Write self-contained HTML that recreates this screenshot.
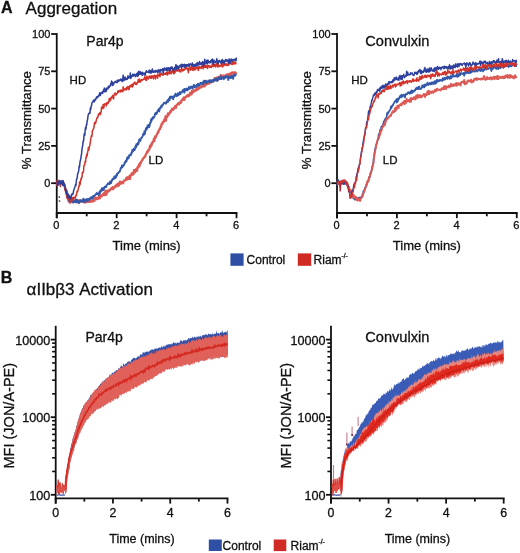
<!DOCTYPE html>
<html><head><meta charset="utf-8"><style>
html,body{margin:0;padding:0;background:#fff;}
svg{display:block;will-change:transform;}
text{font-family:"Liberation Sans", sans-serif;fill:#111;stroke:#111;stroke-width:0.3px;}
</style></head><body>
<svg width="520" height="553" viewBox="0 0 520 553">
<rect width="520" height="553" fill="#fff"/>
<text x="1.0" y="13.4" font-size="16" font-weight="bold">A</text>
<text x="25.6" y="13.5" font-size="17">Aggregation</text>
<text x="0.8" y="283.3" font-size="16" font-weight="bold">B</text>
<text x="26.6" y="294.8" font-size="17">&#945;IIb&#946;3 Activation</text>
<line x1="56.75" y1="33.1" x2="56.75" y2="218.2" stroke="#111" stroke-width="1.8"/>
<line x1="55.85" y1="213.0" x2="237.41" y2="213.0" stroke="#111" stroke-width="1.8"/>
<line x1="51.15" y1="34.0" x2="56.75" y2="34.0" stroke="#111" stroke-width="1.8"/>
<text x="50.45" y="37.9" font-size="11" text-anchor="end" font-weight="normal" >100</text>
<line x1="51.15" y1="71.29999999999998" x2="56.75" y2="71.29999999999998" stroke="#111" stroke-width="1.8"/>
<text x="50.45" y="75.19999999999999" font-size="11" text-anchor="end" font-weight="normal" >75</text>
<line x1="51.15" y1="108.6" x2="56.75" y2="108.6" stroke="#111" stroke-width="1.8"/>
<text x="50.45" y="112.5" font-size="11" text-anchor="end" font-weight="normal" >50</text>
<line x1="51.15" y1="145.89999999999998" x2="56.75" y2="145.89999999999998" stroke="#111" stroke-width="1.8"/>
<text x="50.45" y="149.79999999999998" font-size="11" text-anchor="end" font-weight="normal" >25</text>
<line x1="51.15" y1="183.2" x2="56.75" y2="183.2" stroke="#111" stroke-width="1.8"/>
<text x="50.45" y="187.1" font-size="11" text-anchor="end" font-weight="normal" >0</text>
<line x1="56.75" y1="213" x2="56.75" y2="218.2" stroke="#111" stroke-width="1.8"/>
<text x="56.35" y="229.1" font-size="11" text-anchor="middle" font-weight="normal" >0</text>
<line x1="86.71000000000001" y1="213" x2="86.71000000000001" y2="216.3" stroke="#111" stroke-width="1.8"/>
<line x1="116.67" y1="213" x2="116.67" y2="218.2" stroke="#111" stroke-width="1.8"/>
<text x="116.27" y="229.1" font-size="11" text-anchor="middle" font-weight="normal" >2</text>
<line x1="146.63" y1="213" x2="146.63" y2="216.3" stroke="#111" stroke-width="1.8"/>
<line x1="176.59" y1="213" x2="176.59" y2="218.2" stroke="#111" stroke-width="1.8"/>
<text x="176.19" y="229.1" font-size="11" text-anchor="middle" font-weight="normal" >4</text>
<line x1="206.55" y1="213" x2="206.55" y2="216.3" stroke="#111" stroke-width="1.8"/>
<line x1="236.51" y1="213" x2="236.51" y2="218.2" stroke="#111" stroke-width="1.8"/>
<text x="236.10999999999999" y="229.1" font-size="11" text-anchor="middle" font-weight="normal" >6</text>
<text transform="translate(31.2,120.2) rotate(-90)" font-size="13.2" text-anchor="middle">% Transmittance</text>
<text x="146.63" y="249.8" font-size="13" text-anchor="middle" font-weight="normal" >Time (mins)</text>
<text x="86.3" y="45.7" font-size="14" text-anchor="start" font-weight="normal" >Par4p</text>
<line x1="337.0" y1="33.1" x2="337.0" y2="218.2" stroke="#111" stroke-width="1.8"/>
<line x1="336.1" y1="213.0" x2="517.66" y2="213.0" stroke="#111" stroke-width="1.8"/>
<line x1="331.4" y1="34.0" x2="337.0" y2="34.0" stroke="#111" stroke-width="1.8"/>
<text x="330.7" y="37.9" font-size="11" text-anchor="end" font-weight="normal" >100</text>
<line x1="331.4" y1="71.29999999999998" x2="337.0" y2="71.29999999999998" stroke="#111" stroke-width="1.8"/>
<text x="330.7" y="75.19999999999999" font-size="11" text-anchor="end" font-weight="normal" >75</text>
<line x1="331.4" y1="108.6" x2="337.0" y2="108.6" stroke="#111" stroke-width="1.8"/>
<text x="330.7" y="112.5" font-size="11" text-anchor="end" font-weight="normal" >50</text>
<line x1="331.4" y1="145.89999999999998" x2="337.0" y2="145.89999999999998" stroke="#111" stroke-width="1.8"/>
<text x="330.7" y="149.79999999999998" font-size="11" text-anchor="end" font-weight="normal" >25</text>
<line x1="331.4" y1="183.2" x2="337.0" y2="183.2" stroke="#111" stroke-width="1.8"/>
<text x="330.7" y="187.1" font-size="11" text-anchor="end" font-weight="normal" >0</text>
<line x1="337.0" y1="213" x2="337.0" y2="218.2" stroke="#111" stroke-width="1.8"/>
<text x="336.6" y="229.1" font-size="11" text-anchor="middle" font-weight="normal" >0</text>
<line x1="366.96" y1="213" x2="366.96" y2="216.3" stroke="#111" stroke-width="1.8"/>
<line x1="396.92" y1="213" x2="396.92" y2="218.2" stroke="#111" stroke-width="1.8"/>
<text x="396.52000000000004" y="229.1" font-size="11" text-anchor="middle" font-weight="normal" >2</text>
<line x1="426.88" y1="213" x2="426.88" y2="216.3" stroke="#111" stroke-width="1.8"/>
<line x1="456.84000000000003" y1="213" x2="456.84000000000003" y2="218.2" stroke="#111" stroke-width="1.8"/>
<text x="456.44000000000005" y="229.1" font-size="11" text-anchor="middle" font-weight="normal" >4</text>
<line x1="486.8" y1="213" x2="486.8" y2="216.3" stroke="#111" stroke-width="1.8"/>
<line x1="516.76" y1="213" x2="516.76" y2="218.2" stroke="#111" stroke-width="1.8"/>
<text x="516.36" y="229.1" font-size="11" text-anchor="middle" font-weight="normal" >6</text>
<text transform="translate(310.8,120.2) rotate(-90)" font-size="13.2" text-anchor="middle">% Transmittance</text>
<text x="426.88" y="249.8" font-size="13" text-anchor="middle" font-weight="normal" >Time (mins)</text>
<text x="365.3" y="45.7" font-size="14.6" text-anchor="start" font-weight="normal" >Convulxin</text>
<polyline fill="none" stroke="#dc5a55" stroke-width="2.3" stroke-linejoin="round" opacity="1.0" points="56.75,183.96 57.15,184.27 57.55,183.71 57.95,182.11 58.35,183.98 58.75,183.43 59.15,182.42 59.55,183.27 59.95,182.88 60.35,182.64 60.75,182.26 61.15,182.65 61.55,181.52 61.95,182.15 62.35,182.06 62.75,183.28 63.15,183.08 63.55,183.17 63.95,183.48 64.35,185.01 64.75,186.52 65.15,187.65 65.55,190.45 65.95,191.58 66.35,189.93 66.75,192.51 67.15,195.81 67.55,197.03 67.95,198.53 68.35,199.27 68.75,201.65 69.15,199.32 69.55,200.42 69.95,202.87 70.35,201.69 70.75,201.74 71.15,200.70 71.55,199.70 71.95,201.36 72.35,201.33 72.75,200.14 73.15,200.65 73.55,201.22 73.95,200.45 74.35,201.22 74.75,201.41 75.15,201.37 75.55,200.89 75.95,201.89 76.35,202.17 76.75,201.66 77.15,200.64 77.55,202.04 77.95,200.94 78.35,202.18 78.75,200.43 79.15,202.22 79.55,201.38 79.95,200.28 80.35,201.12 80.75,201.45 81.15,201.65 81.55,200.52 81.95,200.40 82.35,201.57 82.75,200.97 83.15,201.60 83.55,202.06 83.95,199.89 84.35,201.59 84.75,202.46 85.15,201.08 85.55,200.60 85.95,202.00 86.35,201.54 86.75,202.10 87.15,200.97 87.55,199.93 87.95,201.15 88.35,200.83 88.75,201.91 89.15,201.37 89.55,199.71 89.95,200.08 90.35,201.93 90.75,201.72 91.15,200.51 91.55,201.03 91.95,201.34 92.35,201.25 92.75,201.48 93.15,200.77 93.55,200.28 93.95,199.94 94.35,200.91 94.75,197.72 95.15,199.39 95.55,199.30 95.95,197.75 96.35,199.08 96.75,197.95 97.15,199.06 97.55,197.93 97.95,198.40 98.35,198.66 98.75,197.69 99.15,196.33 99.55,195.53 99.95,198.24 100.35,196.32 100.75,195.56 101.15,196.06 101.55,195.51 101.95,196.19 102.35,195.20 102.75,194.92 103.15,194.00 103.55,194.80 103.95,193.18 104.35,194.44 104.75,194.94 105.15,191.92 105.55,190.80 105.95,193.30 106.35,194.76 106.75,191.29 107.15,190.79 107.55,192.17 107.95,190.61 108.35,190.64 108.75,190.52 109.15,191.04 109.55,189.93 109.95,190.28 110.35,189.61 110.75,188.74 111.15,188.95 111.55,188.12 111.95,188.72 112.35,187.43 112.75,187.20 113.15,189.23 113.55,187.60 113.95,187.34 114.35,187.58 114.75,186.48 115.15,186.39 115.55,186.71 115.95,186.32 116.35,184.76 116.75,186.29 117.15,184.75 117.55,184.08 117.95,183.96 118.35,184.17 118.75,185.74 119.15,182.97 119.55,183.93 119.95,181.61 120.35,183.29 120.75,183.86 121.15,182.59 121.55,181.99 121.95,182.51 122.35,182.68 122.75,182.39 123.15,183.31 123.55,181.46 123.95,180.48 124.35,180.62 124.75,180.40 125.15,180.28 125.55,179.86 125.95,179.75 126.35,177.79 126.75,179.74 127.15,178.17 127.55,177.32 127.95,178.63 128.35,178.92 128.75,177.85 129.15,177.22 129.55,175.90 129.95,178.97 130.35,176.83 130.75,174.66 131.15,174.62 131.55,175.03 131.95,173.17 132.35,174.34 132.75,173.39 133.15,174.52 133.55,173.88 133.95,170.16 134.35,172.21 134.75,170.28 135.15,172.28 135.55,170.96 135.95,170.81 136.35,168.85 136.75,170.90 137.15,170.48 137.55,167.09 137.95,167.74 138.35,166.13 138.75,166.05 139.15,164.26 139.55,166.42 139.95,163.22 140.35,163.19 140.75,163.28 141.15,161.62 141.55,161.37 141.95,160.45 142.35,160.22 142.75,158.67 143.15,158.71 143.55,158.29 143.95,157.56 144.35,157.28 144.75,156.34 145.15,156.65 145.55,155.05 145.95,154.58 146.35,153.46 146.75,152.93 147.15,151.60 147.55,152.54 147.95,150.37 148.35,150.04 148.75,150.34 149.15,149.67 149.55,148.22 149.95,146.02 150.35,147.46 150.75,146.55 151.15,144.27 151.55,145.46 151.95,143.35 152.35,142.19 152.75,142.50 153.15,141.48 153.55,141.05 153.95,138.66 154.35,140.97 154.75,138.04 155.15,136.44 155.55,137.63 155.95,136.00 156.35,135.86 156.75,134.51 157.15,134.00 157.55,133.53 157.95,131.88 158.35,132.41 158.75,130.62 159.15,129.50 159.55,129.59 159.95,129.15 160.35,127.75 160.75,126.38 161.15,126.92 161.55,123.97 161.95,123.83 162.35,124.01 162.75,121.98 163.15,122.47 163.55,121.67 163.95,121.83 164.35,119.52 164.75,119.15 165.15,119.40 165.55,116.28 165.95,120.69 166.35,116.69 166.75,116.10 167.15,116.97 167.55,115.61 167.95,113.51 168.35,115.15 168.75,114.83 169.15,113.15 169.55,112.80 169.95,113.00 170.35,111.27 170.75,112.00 171.15,111.32 171.55,110.08 171.95,108.98 172.35,109.59 172.75,108.57 173.15,109.83 173.55,108.63 173.95,108.79 174.35,107.79 174.75,107.50 175.15,106.16 175.55,107.07 175.95,107.68 176.35,105.41 176.75,104.78 177.15,104.79 177.55,104.13 177.95,103.56 178.35,103.95 178.75,103.20 179.15,104.40 179.55,102.75 179.95,102.69 180.35,102.91 180.75,101.43 181.15,102.65 181.55,100.45 181.95,99.95 182.35,100.01 182.75,99.90 183.15,98.41 183.55,99.31 183.95,97.51 184.35,99.93 184.75,98.27 185.15,97.44 185.55,96.87 185.95,97.01 186.35,96.83 186.75,95.77 187.15,95.56 187.55,95.90 187.95,95.28 188.35,96.27 188.75,96.13 189.15,94.81 189.55,94.91 189.95,92.97 190.35,94.44 190.75,93.53 191.15,93.69 191.55,94.39 191.95,90.60 192.35,92.59 192.75,91.07 193.15,92.31 193.55,90.30 193.95,90.75 194.35,91.10 194.75,91.19 195.15,90.43 195.55,89.37 195.95,89.32 196.35,90.34 196.75,89.28 197.15,87.51 197.55,89.52 197.95,88.88 198.35,89.04 198.75,87.70 199.15,88.50 199.55,86.55 199.95,87.77 200.35,86.57 200.75,87.38 201.15,87.43 201.55,85.63 201.95,86.00 202.35,85.85 202.75,86.65 203.15,85.99 203.55,84.02 203.95,85.31 204.35,85.34 204.75,86.36 205.15,82.72 205.55,83.53 205.95,85.00 206.35,82.37 206.75,82.30 207.15,83.64 207.55,83.89 207.95,82.17 208.35,83.07 208.75,82.49 209.15,83.57 209.55,82.01 209.95,82.72 210.35,80.84 210.75,81.31 211.15,81.21 211.55,82.15 211.95,81.47 212.35,80.09 212.75,81.21 213.15,81.11 213.55,80.15 213.95,79.84 214.35,79.73 214.75,78.20 215.15,79.73 215.55,79.60 215.95,78.44 216.35,79.72 216.75,77.65 217.15,78.22 217.55,78.13 217.95,80.18 218.35,76.79 218.75,78.57 219.15,78.76 219.55,78.09 219.95,78.65 220.35,76.53 220.75,75.22 221.15,77.81 221.55,75.89 221.95,76.52 222.35,75.60 222.75,77.46 223.15,77.14 223.55,75.57 223.95,76.89 224.35,76.04 224.75,75.66 225.15,75.70 225.55,75.32 225.95,75.92 226.35,75.51 226.75,74.78 227.15,75.87 227.55,74.28 227.95,74.96 228.35,74.95 228.75,75.77 229.15,73.86 229.55,75.76 229.95,74.23 230.35,73.78 230.75,73.23 231.15,74.24 231.55,73.64 231.95,72.49 232.35,72.36 232.75,72.77 233.15,72.55 233.55,74.04 233.95,74.19 234.35,73.63 234.75,73.08 235.15,72.27 235.55,72.61 235.95,73.27 236.35,74.30"/>
<polyline fill="none" stroke="#3358aa" stroke-width="1.9" stroke-linejoin="round" opacity="1.0" points="56.75,183.82 57.15,183.06 57.55,183.04 57.95,181.09 58.35,184.78 58.75,184.06 59.15,182.61 59.55,183.44 59.95,182.81 60.35,181.88 60.75,183.11 61.15,181.88 61.55,181.89 61.95,181.59 62.35,182.90 62.75,182.65 63.15,183.53 63.55,182.89 63.95,184.30 64.35,184.44 64.75,187.27 65.15,188.06 65.55,189.58 65.95,191.05 66.35,191.49 66.75,194.97 67.15,197.89 67.55,195.98 67.95,196.75 68.35,197.58 68.75,200.25 69.15,200.08 69.55,201.29 69.95,201.22 70.35,200.87 70.75,201.01 71.15,200.67 71.55,201.66 71.95,199.92 72.35,200.60 72.75,201.24 73.15,202.67 73.55,200.39 73.95,200.12 74.35,200.59 74.75,201.98 75.15,200.89 75.55,202.29 75.95,199.41 76.35,202.11 76.75,202.02 77.15,199.80 77.55,201.21 77.95,202.16 78.35,201.13 78.75,201.94 79.15,203.17 79.55,201.26 79.95,200.75 80.35,200.29 80.75,201.55 81.15,200.77 81.55,200.77 81.95,200.81 82.35,201.47 82.75,199.90 83.15,199.46 83.55,198.63 83.95,201.87 84.35,200.80 84.75,202.03 85.15,200.58 85.55,199.81 85.95,200.79 86.35,200.16 86.75,198.96 87.15,199.15 87.55,201.37 87.95,199.94 88.35,199.82 88.75,199.03 89.15,198.48 89.55,199.74 89.95,198.66 90.35,197.89 90.75,198.25 91.15,197.34 91.55,198.10 91.95,198.70 92.35,196.69 92.75,198.47 93.15,196.32 93.55,196.79 93.95,195.62 94.35,195.89 94.75,195.85 95.15,195.13 95.55,194.61 95.95,194.35 96.35,193.92 96.75,192.95 97.15,193.82 97.55,194.10 97.95,194.24 98.35,193.67 98.75,194.97 99.15,192.71 99.55,191.67 99.95,193.42 100.35,190.45 100.75,191.91 101.15,189.82 101.55,190.64 101.95,188.20 102.35,190.42 102.75,189.11 103.15,188.02 103.55,190.04 103.95,188.85 104.35,187.85 104.75,186.77 105.15,187.04 105.55,186.56 105.95,187.00 106.35,186.69 106.75,185.00 107.15,184.73 107.55,184.36 107.95,183.24 108.35,183.54 108.75,183.60 109.15,183.91 109.55,184.08 109.95,181.76 110.35,182.58 110.75,181.28 111.15,183.13 111.55,180.81 111.95,180.89 112.35,179.18 112.75,178.88 113.15,179.38 113.55,178.43 113.95,178.67 114.35,176.52 114.75,178.09 115.15,176.24 115.55,178.14 115.95,175.87 116.35,176.64 116.75,173.90 117.15,175.04 117.55,173.33 117.95,173.16 118.35,173.04 118.75,172.10 119.15,171.96 119.55,171.72 119.95,170.98 120.35,169.69 120.75,167.91 121.15,167.79 121.55,167.72 121.95,165.37 122.35,167.34 122.75,165.83 123.15,165.21 123.55,165.68 123.95,164.82 124.35,163.81 124.75,162.10 125.15,162.68 125.55,162.11 125.95,160.40 126.35,161.53 126.75,160.45 127.15,157.62 127.55,158.90 127.95,157.05 128.35,158.61 128.75,157.71 129.15,155.39 129.55,154.99 129.95,155.28 130.35,154.37 130.75,155.36 131.15,154.06 131.55,152.55 131.95,152.74 132.35,149.80 132.75,151.33 133.15,151.25 133.55,149.72 133.95,148.66 134.35,149.23 134.75,149.90 135.15,147.74 135.55,145.96 135.95,147.68 136.35,144.10 136.75,145.65 137.15,144.07 137.55,144.83 137.95,142.63 138.35,143.97 138.75,142.43 139.15,139.99 139.55,139.14 139.95,139.99 140.35,140.80 140.75,139.09 141.15,138.37 141.55,137.42 141.95,137.61 142.35,136.59 142.75,135.81 143.15,133.97 143.55,135.22 143.95,134.67 144.35,131.56 144.75,134.10 145.15,131.97 145.55,130.18 145.95,128.21 146.35,129.82 146.75,129.05 147.15,127.34 147.55,125.59 147.95,127.56 148.35,125.37 148.75,124.82 149.15,127.16 149.55,125.86 149.95,124.15 150.35,122.23 150.75,122.57 151.15,119.29 151.55,120.79 151.95,119.37 152.35,118.25 152.75,117.35 153.15,118.62 153.55,117.60 153.95,117.05 154.35,117.05 154.75,114.93 155.15,113.99 155.55,112.91 155.95,113.64 156.35,114.05 156.75,112.68 157.15,112.85 157.55,110.68 157.95,110.80 158.35,110.02 158.75,109.08 159.15,111.38 159.55,109.98 159.95,108.04 160.35,107.56 160.75,107.72 161.15,106.01 161.55,107.24 161.95,105.23 162.35,105.62 162.75,104.59 163.15,104.65 163.55,103.46 163.95,102.83 164.35,102.98 164.75,102.84 165.15,102.80 165.55,102.75 165.95,103.70 166.35,102.70 166.75,101.39 167.15,101.93 167.55,100.32 167.95,101.92 168.35,100.80 168.75,98.77 169.15,100.36 169.55,100.12 169.95,96.67 170.35,98.13 170.75,98.10 171.15,96.51 171.55,97.01 171.95,96.85 172.35,97.90 172.75,97.45 173.15,99.29 173.55,96.31 173.95,97.46 174.35,96.24 174.75,96.17 175.15,94.64 175.55,93.72 175.95,94.51 176.35,95.66 176.75,96.16 177.15,95.05 177.55,94.73 177.95,93.30 178.35,95.21 178.75,94.82 179.15,92.92 179.55,93.14 179.95,92.07 180.35,94.07 180.75,92.91 181.15,92.24 181.55,92.49 181.95,92.31 182.35,91.34 182.75,90.39 183.15,90.15 183.55,89.54 183.95,91.32 184.35,92.70 184.75,88.98 185.15,90.44 185.55,90.49 185.95,89.04 186.35,89.91 186.75,88.55 187.15,90.42 187.55,88.62 187.95,89.05 188.35,89.39 188.75,88.20 189.15,86.79 189.55,87.74 189.95,88.72 190.35,87.77 190.75,87.87 191.15,86.52 191.55,87.44 191.95,87.79 192.35,86.99 192.75,88.51 193.15,86.43 193.55,85.51 193.95,84.83 194.35,87.15 194.75,85.90 195.15,86.71 195.55,86.05 195.95,86.94 196.35,86.47 196.75,84.84 197.15,85.27 197.55,85.86 197.95,83.62 198.35,85.90 198.75,85.54 199.15,85.19 199.55,83.99 199.95,84.30 200.35,82.89 200.75,83.81 201.15,83.09 201.55,83.57 201.95,82.91 202.35,83.48 202.75,84.16 203.15,81.79 203.55,83.67 203.95,80.92 204.35,80.65 204.75,82.36 205.15,82.35 205.55,82.63 205.95,80.63 206.35,81.94 206.75,82.00 207.15,82.90 207.55,81.57 207.95,82.03 208.35,80.57 208.75,81.18 209.15,80.84 209.55,81.78 209.95,80.16 210.35,80.20 210.75,81.37 211.15,82.37 211.55,81.01 211.95,80.84 212.35,80.16 212.75,81.36 213.15,80.77 213.55,81.75 213.95,80.40 214.35,79.16 214.75,79.40 215.15,78.94 215.55,78.61 215.95,80.78 216.35,80.28 216.75,78.35 217.15,80.98 217.55,79.51 217.95,78.34 218.35,79.46 218.75,78.97 219.15,78.25 219.55,77.11 219.95,78.81 220.35,78.95 220.75,76.29 221.15,79.02 221.55,79.00 221.95,77.94 222.35,78.38 222.75,77.95 223.15,77.37 223.55,77.72 223.95,79.19 224.35,76.59 224.75,78.03 225.15,77.91 225.55,77.04 225.95,77.20 226.35,76.27 226.75,76.69 227.15,77.40 227.55,77.61 227.95,76.44 228.35,79.94 228.75,76.61 229.15,77.17 229.55,76.79 229.95,76.57 230.35,78.04 230.75,76.38 231.15,77.95 231.55,77.72 231.95,75.69 232.35,77.51 232.75,75.94 233.15,78.93 233.55,76.07 233.95,75.52 234.35,74.60 234.75,75.11 235.15,75.70 235.55,75.28 235.95,75.03 236.35,75.47"/>
<polyline fill="none" stroke="#d2332b" stroke-width="1.5" stroke-linejoin="round" opacity="1.0" points="56.75,186.20 57.15,180.34 57.55,183.93 57.95,182.58 58.35,182.60 58.75,182.76 59.15,180.38 59.55,182.45 59.95,181.47 60.35,186.53 60.75,182.51 61.15,181.72 61.55,181.83 61.95,181.46 62.35,181.17 62.75,182.26 63.15,183.65 63.55,183.14 63.95,185.40 64.35,185.03 64.75,186.59 65.15,189.87 65.55,189.99 65.95,190.00 66.35,191.99 66.75,194.59 67.15,197.92 67.55,196.44 67.95,197.24 68.35,199.38 68.75,197.56 69.15,198.78 69.55,200.66 69.95,200.60 70.35,200.21 70.75,201.04 71.15,196.66 71.55,201.37 71.95,198.73 72.35,197.62 72.75,199.79 73.15,200.03 73.55,198.29 73.95,197.11 74.35,197.97 74.75,197.25 75.15,198.37 75.55,196.80 75.95,195.33 76.35,195.60 76.75,192.96 77.15,190.97 77.55,191.73 77.95,190.60 78.35,188.46 78.75,186.60 79.15,186.68 79.55,182.06 79.95,184.79 80.35,183.24 80.75,179.22 81.15,179.93 81.55,177.14 81.95,177.69 82.35,172.52 82.75,172.19 83.15,172.46 83.55,171.24 83.95,165.23 84.35,165.36 84.75,164.43 85.15,161.34 85.55,162.28 85.95,157.14 86.35,157.48 86.75,154.20 87.15,155.79 87.55,152.56 87.95,150.68 88.35,147.55 88.75,150.33 89.15,147.66 89.55,146.09 89.95,144.92 90.35,142.19 90.75,139.16 91.15,137.14 91.55,135.33 91.95,136.26 92.35,131.01 92.75,130.47 93.15,129.32 93.55,128.59 93.95,127.64 94.35,124.03 94.75,122.15 95.15,123.08 95.55,123.44 95.95,121.77 96.35,120.08 96.75,118.44 97.15,118.27 97.55,116.70 97.95,117.15 98.35,114.29 98.75,114.64 99.15,113.55 99.55,113.61 99.95,112.49 100.35,114.69 100.75,112.70 101.15,112.05 101.55,107.01 101.95,108.53 102.35,107.61 102.75,108.47 103.15,104.41 103.55,108.20 103.95,107.55 104.35,104.09 104.75,104.00 105.15,103.74 105.55,104.32 105.95,104.60 106.35,105.90 106.75,102.64 107.15,103.39 107.55,102.18 107.95,103.73 108.35,102.01 108.75,102.35 109.15,98.85 109.55,99.52 109.95,98.32 110.35,100.79 110.75,99.32 111.15,97.71 111.55,97.13 111.95,97.91 112.35,96.05 112.75,95.40 113.15,96.81 113.55,98.95 113.95,95.24 114.35,94.53 114.75,93.44 115.15,92.93 115.55,94.95 115.95,95.07 116.35,93.72 116.75,93.84 117.15,93.29 117.55,93.05 117.95,90.70 118.35,91.77 118.75,92.22 119.15,90.85 119.55,90.98 119.95,90.31 120.35,90.67 120.75,91.91 121.15,90.10 121.55,90.18 121.95,91.16 122.35,90.72 122.75,91.81 123.15,86.86 123.55,90.33 123.95,88.45 124.35,89.02 124.75,89.70 125.15,89.80 125.55,89.55 125.95,88.25 126.35,89.88 126.75,87.32 127.15,87.31 127.55,88.30 127.95,86.42 128.35,89.63 128.75,88.01 129.15,89.27 129.55,86.33 129.95,85.69 130.35,86.18 130.75,86.70 131.15,84.85 131.55,85.86 131.95,85.16 132.35,86.99 132.75,83.93 133.15,85.85 133.55,83.51 133.95,82.89 134.35,82.97 134.75,82.13 135.15,83.57 135.55,84.44 135.95,83.12 136.35,83.47 136.75,84.50 137.15,82.57 137.55,82.26 137.95,81.46 138.35,79.59 138.75,82.35 139.15,79.02 139.55,81.85 139.95,80.85 140.35,82.13 140.75,80.48 141.15,79.40 141.55,80.73 141.95,79.45 142.35,79.80 142.75,79.95 143.15,79.61 143.55,79.42 143.95,78.50 144.35,79.19 144.75,76.64 145.15,79.01 145.55,77.59 145.95,80.38 146.35,80.46 146.75,76.33 147.15,78.84 147.55,78.39 147.95,77.13 148.35,78.99 148.75,77.64 149.15,75.89 149.55,77.65 149.95,77.67 150.35,77.87 150.75,76.07 151.15,78.25 151.55,78.27 151.95,75.79 152.35,76.27 152.75,76.86 153.15,76.12 153.55,78.87 153.95,76.82 154.35,75.16 154.75,75.30 155.15,76.08 155.55,78.88 155.95,75.65 156.35,75.90 156.75,76.25 157.15,75.42 157.55,78.19 157.95,74.54 158.35,76.00 158.75,75.14 159.15,75.58 159.55,73.21 159.95,76.76 160.35,74.27 160.75,74.34 161.15,73.01 161.55,73.15 161.95,74.65 162.35,75.06 162.75,74.66 163.15,75.12 163.55,74.39 163.95,73.43 164.35,74.34 164.75,73.94 165.15,72.98 165.55,73.92 165.95,74.53 166.35,73.13 166.75,72.30 167.15,73.56 167.55,74.95 167.95,72.22 168.35,72.29 168.75,72.15 169.15,73.76 169.55,69.86 169.95,72.53 170.35,73.48 170.75,70.90 171.15,73.70 171.55,72.43 171.95,70.99 172.35,71.86 172.75,69.61 173.15,70.75 173.55,73.67 173.95,70.19 174.35,73.54 174.75,71.06 175.15,72.34 175.55,71.08 175.95,68.15 176.35,70.17 176.75,71.05 177.15,69.31 177.55,69.00 177.95,71.07 178.35,69.73 178.75,68.36 179.15,69.56 179.55,71.43 179.95,69.69 180.35,71.39 180.75,72.07 181.15,70.14 181.55,68.62 181.95,68.34 182.35,69.87 182.75,70.95 183.15,70.12 183.55,70.41 183.95,69.11 184.35,69.98 184.75,68.95 185.15,69.07 185.55,67.81 185.95,67.40 186.35,68.70 186.75,67.86 187.15,67.99 187.55,69.96 187.95,68.93 188.35,72.65 188.75,70.11 189.15,68.10 189.55,69.80 189.95,69.22 190.35,67.86 190.75,70.03 191.15,67.63 191.55,64.72 191.95,69.47 192.35,67.65 192.75,70.22 193.15,67.50 193.55,66.77 193.95,70.13 194.35,66.79 194.75,68.33 195.15,69.83 195.55,68.11 195.95,67.81 196.35,67.98 196.75,68.84 197.15,66.73 197.55,68.44 197.95,68.35 198.35,70.48 198.75,67.09 199.15,66.31 199.55,68.32 199.95,66.85 200.35,67.65 200.75,67.40 201.15,68.64 201.55,66.30 201.95,66.95 202.35,63.83 202.75,65.85 203.15,68.83 203.55,66.00 203.95,65.92 204.35,65.22 204.75,67.42 205.15,66.86 205.55,65.10 205.95,67.36 206.35,66.80 206.75,67.37 207.15,65.57 207.55,68.49 207.95,66.78 208.35,66.07 208.75,65.51 209.15,65.80 209.55,67.13 209.95,65.67 210.35,67.30 210.75,66.63 211.15,67.54 211.55,66.82 211.95,65.67 212.35,63.32 212.75,66.03 213.15,66.59 213.55,65.76 213.95,66.20 214.35,64.86 214.75,64.93 215.15,64.18 215.55,67.01 215.95,65.46 216.35,64.60 216.75,63.50 217.15,64.92 217.55,66.87 217.95,65.60 218.35,64.07 218.75,66.71 219.15,66.66 219.55,66.06 219.95,65.77 220.35,66.18 220.75,65.37 221.15,65.62 221.55,63.63 221.95,66.43 222.35,64.80 222.75,67.00 223.15,61.87 223.55,65.26 223.95,65.56 224.35,63.86 224.75,64.82 225.15,65.14 225.55,64.89 225.95,63.45 226.35,63.90 226.75,65.31 227.15,65.59 227.55,64.08 227.95,64.01 228.35,64.12 228.75,65.13 229.15,62.47 229.55,62.09 229.95,63.86 230.35,62.29 230.75,62.90 231.15,63.70 231.55,64.15 231.95,62.17 232.35,64.48 232.75,61.22 233.15,64.08 233.55,61.39 233.95,61.73 234.35,64.09 234.75,62.74 235.15,62.22 235.55,62.62 235.95,63.72 236.35,63.04"/>
<polyline fill="none" stroke="#2d3f9c" stroke-width="1.5" stroke-linejoin="round" opacity="1.0" points="56.75,182.83 57.15,183.31 57.55,185.49 57.95,184.11 58.35,181.11 58.75,183.03 59.15,182.12 59.55,182.93 59.95,180.55 60.35,182.68 60.75,182.52 61.15,184.13 61.55,182.58 61.95,182.94 62.35,180.62 62.75,185.56 63.15,180.65 63.55,184.82 63.95,183.81 64.35,184.22 64.75,185.80 65.15,187.15 65.55,189.81 65.95,190.45 66.35,193.89 66.75,191.22 67.15,194.77 67.55,194.49 67.95,197.12 68.35,194.00 68.75,196.66 69.15,197.70 69.55,195.83 69.95,199.04 70.35,197.96 70.75,198.53 71.15,197.75 71.55,194.54 71.95,194.05 72.35,194.05 72.75,194.45 73.15,193.71 73.55,190.82 73.95,189.91 74.35,188.51 74.75,187.37 75.15,186.19 75.55,184.56 75.95,185.47 76.35,180.42 76.75,178.91 77.15,178.06 77.55,174.48 77.95,173.34 78.35,171.86 78.75,170.76 79.15,165.93 79.55,166.94 79.95,162.35 80.35,160.52 80.75,158.84 81.15,155.98 81.55,153.79 81.95,150.01 82.35,147.15 82.75,145.06 83.15,140.96 83.55,141.28 83.95,136.40 84.35,133.46 84.75,135.37 85.15,130.53 85.55,127.26 85.95,129.22 86.35,124.75 86.75,124.81 87.15,120.80 87.55,119.87 87.95,116.38 88.35,114.36 88.75,113.78 89.15,113.23 89.55,112.77 89.95,113.42 90.35,107.90 90.75,109.31 91.15,106.20 91.55,105.72 91.95,103.07 92.35,102.13 92.75,102.12 93.15,100.78 93.55,101.50 93.95,99.92 94.35,101.73 94.75,99.78 95.15,99.26 95.55,99.96 95.95,98.70 96.35,97.55 96.75,97.05 97.15,96.59 97.55,97.69 97.95,96.94 98.35,96.05 98.75,96.23 99.15,94.20 99.55,95.18 99.95,92.43 100.35,95.54 100.75,93.63 101.15,93.40 101.55,93.57 101.95,92.45 102.35,91.78 102.75,93.20 103.15,91.48 103.55,89.80 103.95,91.11 104.35,88.04 104.75,91.86 105.15,89.19 105.55,89.08 105.95,91.46 106.35,90.96 106.75,88.05 107.15,88.33 107.55,88.56 107.95,88.96 108.35,86.37 108.75,86.39 109.15,87.45 109.55,85.97 109.95,86.30 110.35,85.86 110.75,83.42 111.15,83.51 111.55,81.04 111.95,83.77 112.35,85.53 112.75,82.24 113.15,84.94 113.55,84.43 113.95,82.89 114.35,82.73 114.75,82.64 115.15,81.25 115.55,81.77 115.95,81.87 116.35,82.50 116.75,82.53 117.15,80.43 117.55,82.20 117.95,80.02 118.35,80.60 118.75,81.10 119.15,80.44 119.55,80.14 119.95,80.47 120.35,79.28 120.75,79.00 121.15,79.40 121.55,80.71 121.95,79.23 122.35,81.59 122.75,79.33 123.15,75.20 123.55,78.23 123.95,80.72 124.35,78.52 124.75,77.83 125.15,77.15 125.55,79.76 125.95,79.23 126.35,78.69 126.75,78.26 127.15,79.40 127.55,78.50 127.95,75.81 128.35,78.18 128.75,77.31 129.15,76.83 129.55,77.80 129.95,76.76 130.35,72.93 130.75,78.42 131.15,77.64 131.55,76.06 131.95,75.62 132.35,76.24 132.75,74.22 133.15,76.08 133.55,75.29 133.95,75.01 134.35,74.17 134.75,74.35 135.15,76.45 135.55,76.61 135.95,75.45 136.35,74.64 136.75,73.48 137.15,75.36 137.55,76.36 137.95,72.22 138.35,75.59 138.75,71.31 139.15,73.48 139.55,74.28 139.95,72.00 140.35,71.71 140.75,73.74 141.15,74.51 141.55,72.72 141.95,74.90 142.35,72.15 142.75,75.23 143.15,73.10 143.55,73.15 143.95,73.54 144.35,73.08 144.75,74.91 145.15,75.27 145.55,73.11 145.95,72.14 146.35,70.80 146.75,71.25 147.15,72.12 147.55,71.91 147.95,71.90 148.35,71.89 148.75,72.43 149.15,70.05 149.55,70.38 149.95,73.00 150.35,72.57 150.75,70.79 151.15,73.01 151.55,70.48 151.95,70.95 152.35,68.92 152.75,72.20 153.15,71.07 153.55,72.35 153.95,71.84 154.35,71.02 154.75,71.05 155.15,72.29 155.55,70.54 155.95,70.50 156.35,70.72 156.75,71.59 157.15,71.68 157.55,72.87 157.95,70.33 158.35,71.96 158.75,69.51 159.15,71.03 159.55,70.38 159.95,72.34 160.35,70.88 160.75,69.51 161.15,70.74 161.55,70.39 161.95,69.51 162.35,69.48 162.75,68.61 163.15,73.18 163.55,69.85 163.95,70.83 164.35,68.10 164.75,68.14 165.15,69.24 165.55,69.18 165.95,70.30 166.35,67.98 166.75,69.84 167.15,70.99 167.55,67.89 167.95,70.09 168.35,67.69 168.75,69.25 169.15,69.19 169.55,70.84 169.95,67.73 170.35,68.73 170.75,69.74 171.15,66.90 171.55,68.27 171.95,67.12 172.35,67.25 172.75,68.90 173.15,68.85 173.55,71.11 173.95,69.53 174.35,69.34 174.75,67.44 175.15,67.20 175.55,67.66 175.95,64.57 176.35,69.40 176.75,66.41 177.15,65.84 177.55,66.51 177.95,68.10 178.35,68.48 178.75,66.37 179.15,67.31 179.55,66.61 179.95,65.36 180.35,66.73 180.75,66.48 181.15,64.44 181.55,67.66 181.95,64.25 182.35,66.43 182.75,64.75 183.15,64.97 183.55,65.04 183.95,66.73 184.35,64.21 184.75,65.47 185.15,67.58 185.55,64.70 185.95,65.46 186.35,66.27 186.75,64.64 187.15,65.90 187.55,64.42 187.95,66.06 188.35,65.21 188.75,63.90 189.15,66.78 189.55,64.85 189.95,64.56 190.35,63.71 190.75,64.22 191.15,64.64 191.55,64.92 191.95,66.03 192.35,62.96 192.75,64.12 193.15,66.00 193.55,64.68 193.95,64.92 194.35,66.35 194.75,64.73 195.15,64.84 195.55,64.16 195.95,66.37 196.35,65.42 196.75,63.16 197.15,64.69 197.55,62.52 197.95,65.27 198.35,64.70 198.75,63.61 199.15,63.26 199.55,61.47 199.95,64.62 200.35,63.47 200.75,63.18 201.15,64.42 201.55,62.64 201.95,62.69 202.35,62.51 202.75,61.64 203.15,66.29 203.55,62.99 203.95,62.75 204.35,64.27 204.75,59.16 205.15,63.01 205.55,63.02 205.95,61.74 206.35,63.49 206.75,60.33 207.15,62.82 207.55,63.86 207.95,59.93 208.35,60.84 208.75,62.39 209.15,62.51 209.55,61.66 209.95,62.86 210.35,62.66 210.75,60.62 211.15,62.13 211.55,60.60 211.95,59.55 212.35,59.08 212.75,63.34 213.15,61.84 213.55,64.41 213.95,60.09 214.35,61.43 214.75,62.26 215.15,61.62 215.55,62.38 215.95,61.90 216.35,60.92 216.75,58.74 217.15,60.43 217.55,63.74 217.95,62.51 218.35,63.25 218.75,60.76 219.15,61.22 219.55,60.34 219.95,61.89 220.35,61.45 220.75,61.91 221.15,63.52 221.55,60.24 221.95,62.18 222.35,59.47 222.75,62.58 223.15,60.62 223.55,61.05 223.95,61.28 224.35,63.14 224.75,61.01 225.15,60.40 225.55,59.51 225.95,61.31 226.35,59.87 226.75,60.28 227.15,60.85 227.55,61.70 227.95,59.94 228.35,61.65 228.75,63.00 229.15,58.90 229.55,62.44 229.95,63.41 230.35,59.95 230.75,61.44 231.15,58.93 231.55,61.05 231.95,60.20 232.35,60.97 232.75,59.42 233.15,59.52 233.55,59.96 233.95,59.61 234.35,59.71 234.75,60.21 235.15,59.05 235.55,60.24 235.95,61.01 236.35,57.49"/>
<rect x="58.6" y="196" width="1.4" height="2" fill="#6a5a8a"/><rect x="58.8" y="200" width="1.4" height="2" fill="#6a5a8a"/>
<text x="148.6" y="163.6" font-size="11.5" text-anchor="start" font-weight="normal" >LD</text>
<text x="69.6" y="83.8" font-size="11.5" text-anchor="start" font-weight="normal" >HD</text>
<polyline fill="none" stroke="#3358aa" stroke-width="1.7" stroke-linejoin="round" opacity="1.0" points="337.00,184.25 337.40,184.91 337.80,180.51 338.20,182.85 338.60,183.93 339.00,184.19 339.40,183.41 339.80,184.15 340.20,182.82 340.60,182.95 341.00,182.45 341.40,181.08 341.80,181.22 342.20,182.39 342.60,181.43 343.00,183.31 343.40,183.40 343.80,183.99 344.20,182.28 344.60,183.82 345.00,181.68 345.40,181.94 345.80,183.12 346.20,183.77 346.60,182.46 347.00,182.95 347.40,185.66 347.80,185.07 348.20,187.82 348.60,187.73 349.00,188.39 349.40,189.04 349.80,190.48 350.20,190.24 350.60,192.35 351.00,191.64 351.40,192.83 351.80,193.24 352.20,195.33 352.60,195.49 353.00,195.21 353.40,198.55 353.80,196.56 354.20,197.17 354.60,198.02 355.00,199.71 355.40,198.11 355.80,199.24 356.20,198.88 356.60,197.52 357.00,199.94 357.40,200.27 357.80,199.07 358.20,199.28 358.60,197.69 359.00,197.48 359.40,198.36 359.80,199.07 360.20,197.63 360.60,198.02 361.00,198.31 361.40,196.98 361.80,196.87 362.20,197.04 362.60,193.55 363.00,194.66 363.40,191.08 363.80,192.39 364.20,191.12 364.60,189.30 365.00,187.69 365.40,187.62 365.80,186.21 366.20,185.68 366.60,183.68 367.00,184.14 367.40,181.57 367.80,181.31 368.20,180.22 368.60,180.85 369.00,177.03 369.40,177.02 369.80,177.47 370.20,174.43 370.60,172.59 371.00,172.78 371.40,170.80 371.80,170.41 372.20,166.88 372.60,165.94 373.00,164.14 373.40,162.07 373.80,157.41 374.20,157.38 374.60,152.54 375.00,149.50 375.40,147.80 375.80,146.87 376.20,144.63 376.60,143.85 377.00,142.44 377.40,140.88 377.80,138.99 378.20,139.81 378.60,134.57 379.00,133.89 379.40,133.98 379.80,132.11 380.20,129.70 380.60,130.35 381.00,129.28 381.40,126.46 381.80,128.66 382.20,128.01 382.60,126.87 383.00,124.08 383.40,123.70 383.80,121.42 384.20,121.76 384.60,119.91 385.00,120.05 385.40,118.37 385.80,118.84 386.20,117.75 386.60,117.29 387.00,113.60 387.40,112.55 387.80,113.96 388.20,112.18 388.60,112.37 389.00,111.48 389.40,110.57 389.80,110.52 390.20,109.37 390.60,108.51 391.00,106.40 391.40,108.29 391.80,106.00 392.20,106.33 392.60,104.95 393.00,105.35 393.40,103.75 393.80,103.34 394.20,102.82 394.60,101.54 395.00,101.26 395.40,101.28 395.80,100.92 396.20,99.68 396.60,102.66 397.00,98.97 397.40,99.31 397.80,101.73 398.20,98.30 398.60,99.42 399.00,99.01 399.40,97.85 399.80,96.34 400.20,95.94 400.60,97.20 401.00,97.36 401.40,94.52 401.80,96.56 402.20,95.50 402.60,96.80 403.00,95.83 403.40,94.61 403.80,94.75 404.20,94.99 404.60,96.06 405.00,97.54 405.40,94.63 405.80,94.18 406.20,94.55 406.60,93.67 407.00,94.13 407.40,93.69 407.80,93.10 408.20,92.11 408.60,92.87 409.00,93.42 409.40,92.40 409.80,93.66 410.20,92.90 410.60,91.64 411.00,93.32 411.40,90.28 411.80,92.39 412.20,92.90 412.60,90.61 413.00,90.58 413.40,91.44 413.80,91.76 414.20,90.59 414.60,90.22 415.00,90.72 415.40,89.90 415.80,88.26 416.20,89.11 416.60,89.12 417.00,87.47 417.40,89.20 417.80,87.90 418.20,89.22 418.60,86.83 419.00,87.25 419.40,86.55 419.80,89.13 420.20,88.97 420.60,89.01 421.00,88.86 421.40,88.14 421.80,87.98 422.20,85.23 422.60,87.11 423.00,86.13 423.40,86.16 423.80,85.10 424.20,87.50 424.60,86.20 425.00,84.40 425.40,86.25 425.80,85.50 426.20,84.38 426.60,84.96 427.00,84.33 427.40,82.65 427.80,83.26 428.20,85.13 428.60,84.81 429.00,84.58 429.40,82.98 429.80,83.40 430.20,83.92 430.60,84.40 431.00,82.72 431.40,82.36 431.80,84.41 432.20,83.19 432.60,82.60 433.00,82.10 433.40,82.04 433.80,84.14 434.20,83.38 434.60,81.85 435.00,80.87 435.40,83.66 435.80,83.41 436.20,82.90 436.60,82.40 437.00,79.53 437.40,79.99 437.80,81.71 438.20,80.72 438.60,81.12 439.00,80.21 439.40,79.94 439.80,81.01 440.20,79.92 440.60,80.19 441.00,80.31 441.40,80.16 441.80,80.95 442.20,81.03 442.60,78.16 443.00,79.13 443.40,78.62 443.80,79.90 444.20,77.95 444.60,79.66 445.00,79.46 445.40,79.22 445.80,77.54 446.20,78.17 446.60,77.19 447.00,78.54 447.40,78.98 447.80,76.39 448.20,76.96 448.60,77.51 449.00,77.02 449.40,78.93 449.80,77.18 450.20,77.46 450.60,75.99 451.00,78.53 451.40,77.04 451.80,77.53 452.20,76.73 452.60,74.41 453.00,74.82 453.40,75.02 453.80,76.67 454.20,75.57 454.60,76.40 455.00,76.15 455.40,76.00 455.80,76.56 456.20,75.71 456.60,73.77 457.00,74.63 457.40,76.86 457.80,74.01 458.20,76.34 458.60,76.52 459.00,74.16 459.40,74.99 459.80,73.14 460.20,75.21 460.60,73.55 461.00,72.91 461.40,73.72 461.80,73.55 462.20,73.31 462.60,73.99 463.00,73.52 463.40,72.92 463.80,74.43 464.20,75.80 464.60,73.34 465.00,72.46 465.40,72.07 465.80,73.55 466.20,72.61 466.60,72.78 467.00,70.67 467.40,71.43 467.80,71.30 468.20,73.31 468.60,72.00 469.00,69.68 469.40,72.55 469.80,73.11 470.20,73.19 470.60,68.98 471.00,71.85 471.40,72.41 471.80,72.11 472.20,71.18 472.60,69.52 473.00,70.80 473.40,70.82 473.80,71.63 474.20,71.60 474.60,70.64 475.00,71.64 475.40,69.65 475.80,69.94 476.20,70.50 476.60,71.03 477.00,70.05 477.40,71.52 477.80,70.62 478.20,69.18 478.60,70.13 479.00,69.08 479.40,68.93 479.80,68.39 480.20,71.14 480.60,70.58 481.00,67.99 481.40,70.63 481.80,70.41 482.20,69.01 482.60,69.82 483.00,71.48 483.40,69.46 483.80,69.53 484.20,70.16 484.60,67.94 485.00,67.65 485.40,67.44 485.80,68.71 486.20,69.60 486.60,67.81 487.00,67.23 487.40,68.76 487.80,68.13 488.20,69.05 488.60,68.26 489.00,68.15 489.40,68.19 489.80,68.25 490.20,67.20 490.60,66.98 491.00,69.63 491.40,71.08 491.80,69.05 492.20,66.24 492.60,67.85 493.00,68.95 493.40,66.08 493.80,67.16 494.20,67.18 494.60,66.62 495.00,66.65 495.40,68.44 495.80,66.92 496.20,67.09 496.60,68.99 497.00,66.37 497.40,65.25 497.80,67.76 498.20,69.07 498.60,67.22 499.00,67.26 499.40,65.62 499.80,65.92 500.20,68.27 500.60,68.01 501.00,67.29 501.40,66.01 501.80,65.41 502.20,65.51 502.60,65.33 503.00,67.07 503.40,65.62 503.80,65.86 504.20,67.00 504.60,66.93 505.00,66.26 505.40,66.64 505.80,66.12 506.20,64.13 506.60,65.95 507.00,65.56 507.40,65.59 507.80,66.14 508.20,65.29 508.60,67.05 509.00,65.61 509.40,65.91 509.80,66.04 510.20,65.50 510.60,66.29 511.00,66.36 511.40,66.20 511.80,64.82 512.20,64.59 512.60,64.86 513.00,65.43 513.40,63.52 513.80,64.52 514.20,64.18 514.60,64.63 515.00,64.35 515.40,66.06 515.80,65.67 516.20,66.15 516.60,64.18"/>
<polyline fill="none" stroke="#dc5a55" stroke-width="1.9" stroke-linejoin="round" opacity="1.0" points="337.00,182.40 337.40,181.81 337.80,182.82 338.20,183.41 338.60,184.05 339.00,182.94 339.40,182.20 339.80,181.87 340.20,183.28 340.60,184.03 341.00,182.54 341.40,180.92 341.80,181.10 342.20,183.61 342.60,182.21 343.00,180.31 343.40,182.02 343.80,181.03 344.20,181.68 344.60,181.95 345.00,181.88 345.40,183.31 345.80,182.98 346.20,182.90 346.60,184.47 347.00,185.51 347.40,183.67 347.80,185.67 348.20,185.63 348.60,187.16 349.00,186.79 349.40,188.85 349.80,189.54 350.20,190.09 350.60,190.20 351.00,191.74 351.40,191.93 351.80,192.53 352.20,194.91 352.60,194.31 353.00,197.22 353.40,197.26 353.80,194.95 354.20,197.61 354.60,196.62 355.00,198.12 355.40,198.47 355.80,196.75 356.20,198.77 356.60,198.98 357.00,200.38 357.40,198.36 357.80,200.34 358.20,198.50 358.60,199.17 359.00,198.49 359.40,200.55 359.80,199.38 360.20,200.93 360.60,198.79 361.00,198.64 361.40,198.19 361.80,196.16 362.20,195.99 362.60,196.60 363.00,193.96 363.40,193.57 363.80,192.34 364.20,191.90 364.60,189.83 365.00,188.94 365.40,188.24 365.80,187.02 366.20,185.02 366.60,185.78 367.00,182.61 367.40,181.74 367.80,180.68 368.20,181.95 368.60,179.62 369.00,177.99 369.40,176.77 369.80,177.23 370.20,174.60 370.60,173.17 371.00,173.78 371.40,170.62 371.80,170.06 372.20,168.77 372.60,166.42 373.00,164.64 373.40,163.66 373.80,159.31 374.20,156.00 374.60,152.87 375.00,152.01 375.40,149.51 375.80,147.97 376.20,145.35 376.60,143.74 377.00,142.01 377.40,140.80 377.80,140.13 378.20,138.29 378.60,137.54 379.00,138.17 379.40,135.62 379.80,132.48 380.20,134.75 380.60,132.36 381.00,130.10 381.40,131.00 381.80,129.21 382.20,127.70 382.60,126.83 383.00,125.66 383.40,125.91 383.80,126.17 384.20,124.03 384.60,124.06 385.00,124.81 385.40,121.03 385.80,121.83 386.20,120.61 386.60,119.21 387.00,118.60 387.40,118.98 387.80,118.81 388.20,117.23 388.60,117.22 389.00,117.30 389.40,116.31 389.80,116.32 390.20,115.37 390.60,114.87 391.00,115.70 391.40,114.01 391.80,113.04 392.20,113.17 392.60,111.11 393.00,111.26 393.40,111.97 393.80,111.40 394.20,111.91 394.60,109.98 395.00,108.11 395.40,111.14 395.80,109.91 396.20,107.40 396.60,109.47 397.00,107.78 397.40,105.59 397.80,106.65 398.20,106.23 398.60,108.01 399.00,105.31 399.40,105.54 399.80,105.21 400.20,104.82 400.60,103.99 401.00,104.84 401.40,105.43 401.80,104.70 402.20,102.89 402.60,102.40 403.00,103.42 403.40,102.34 403.80,102.17 404.20,100.87 404.60,104.26 405.00,102.99 405.40,100.87 405.80,102.53 406.20,102.74 406.60,98.79 407.00,100.42 407.40,100.38 407.80,101.21 408.20,100.24 408.60,99.94 409.00,99.92 409.40,101.65 409.80,101.77 410.20,98.91 410.60,98.34 411.00,101.79 411.40,97.95 411.80,98.20 412.20,98.65 412.60,98.95 413.00,99.34 413.40,98.55 413.80,97.15 414.20,98.38 414.60,97.99 415.00,99.47 415.40,97.45 415.80,95.99 416.20,96.15 416.60,98.52 417.00,96.40 417.40,94.70 417.80,96.10 418.20,96.56 418.60,97.62 419.00,95.29 419.40,96.85 419.80,96.86 420.20,95.24 420.60,95.63 421.00,97.46 421.40,97.29 421.80,96.30 422.20,95.65 422.60,96.33 423.00,94.93 423.40,94.85 423.80,93.96 424.20,94.69 424.60,94.47 425.00,97.20 425.40,94.10 425.80,95.43 426.20,95.34 426.60,93.70 427.00,94.92 427.40,91.44 427.80,93.57 428.20,94.20 428.60,90.80 429.00,91.90 429.40,93.98 429.80,92.53 430.20,91.55 430.60,92.13 431.00,91.83 431.40,92.95 431.80,92.54 432.20,91.67 432.60,91.14 433.00,91.62 433.40,92.86 433.80,91.74 434.20,91.89 434.60,90.96 435.00,89.68 435.40,90.12 435.80,91.35 436.20,90.66 436.60,89.51 437.00,88.66 437.40,90.25 437.80,89.67 438.20,89.52 438.60,89.40 439.00,89.88 439.40,89.76 439.80,90.29 440.20,90.12 440.60,90.39 441.00,89.74 441.40,88.46 441.80,88.61 442.20,89.03 442.60,88.10 443.00,88.83 443.40,89.31 443.80,87.23 444.20,86.13 444.60,88.97 445.00,87.67 445.40,88.24 445.80,86.08 446.20,89.03 446.60,87.91 447.00,86.93 447.40,86.59 447.80,86.94 448.20,86.55 448.60,86.32 449.00,85.37 449.40,87.65 449.80,86.24 450.20,86.24 450.60,86.16 451.00,83.60 451.40,86.38 451.80,85.42 452.20,85.35 452.60,85.60 453.00,84.45 453.40,86.16 453.80,84.52 454.20,84.20 454.60,84.14 455.00,85.05 455.40,85.53 455.80,84.09 456.20,83.07 456.60,85.53 457.00,83.30 457.40,85.45 457.80,84.10 458.20,83.35 458.60,83.30 459.00,84.30 459.40,84.62 459.80,83.43 460.20,84.47 460.60,85.51 461.00,83.11 461.40,82.07 461.80,82.06 462.20,81.63 462.60,82.28 463.00,82.09 463.40,81.39 463.80,83.14 464.20,79.90 464.60,81.10 465.00,84.33 465.40,83.26 465.80,82.65 466.20,82.49 466.60,83.70 467.00,82.37 467.40,81.82 467.80,80.42 468.20,81.49 468.60,80.73 469.00,80.67 469.40,80.57 469.80,81.15 470.20,80.78 470.60,81.89 471.00,79.61 471.40,80.68 471.80,82.62 472.20,80.72 472.60,81.79 473.00,81.65 473.40,81.75 473.80,81.09 474.20,78.89 474.60,79.93 475.00,79.74 475.40,78.49 475.80,79.50 476.20,78.65 476.60,78.16 477.00,79.96 477.40,79.64 477.80,78.93 478.20,78.60 478.60,78.94 479.00,79.02 479.40,78.94 479.80,79.24 480.20,78.79 480.60,79.56 481.00,79.63 481.40,79.41 481.80,78.34 482.20,78.33 482.60,79.33 483.00,78.64 483.40,78.75 483.80,76.25 484.20,76.00 484.60,78.99 485.00,78.94 485.40,79.96 485.80,79.25 486.20,78.71 486.60,78.46 487.00,76.97 487.40,79.24 487.80,77.71 488.20,78.78 488.60,78.43 489.00,78.46 489.40,79.04 489.80,77.62 490.20,77.68 490.60,77.17 491.00,77.61 491.40,79.61 491.80,77.54 492.20,79.05 492.60,78.65 493.00,78.51 493.40,78.55 493.80,76.69 494.20,78.04 494.60,79.22 495.00,76.89 495.40,77.51 495.80,76.83 496.20,77.80 496.60,76.36 497.00,79.01 497.40,76.99 497.80,75.79 498.20,79.09 498.60,78.23 499.00,77.75 499.40,77.73 499.80,76.80 500.20,76.91 500.60,77.82 501.00,77.98 501.40,77.97 501.80,77.22 502.20,76.51 502.60,76.75 503.00,78.02 503.40,78.33 503.80,76.52 504.20,76.35 504.60,78.05 505.00,77.50 505.40,77.45 505.80,75.42 506.20,76.33 506.60,76.17 507.00,76.87 507.40,74.95 507.80,77.89 508.20,76.90 508.60,77.01 509.00,75.38 509.40,76.52 509.80,77.86 510.20,74.94 510.60,76.80 511.00,77.18 511.40,75.77 511.80,77.27 512.20,76.11 512.60,77.66 513.00,76.95 513.40,76.63 513.80,78.41 514.20,77.23 514.60,77.70 515.00,75.19 515.40,75.73 515.80,77.21 516.20,77.28 516.60,76.32"/>
<polyline fill="none" stroke="#2d3f9c" stroke-width="1.4" stroke-linejoin="round" opacity="1.0" points="337.00,181.03 337.40,181.46 337.80,181.36 338.20,182.55 338.60,180.02 339.00,182.60 339.40,181.56 339.80,183.77 340.20,183.73 340.60,184.14 341.00,183.23 341.40,182.08 341.80,183.14 342.20,183.89 342.60,181.19 343.00,182.81 343.40,182.05 343.80,183.99 344.20,181.26 344.60,182.06 345.00,183.04 345.40,183.08 345.80,180.96 346.20,183.85 346.60,183.76 347.00,184.24 347.40,185.07 347.80,186.57 348.20,185.60 348.60,191.64 349.00,190.40 349.40,190.74 349.80,195.50 350.20,198.30 350.60,195.60 351.00,197.63 351.40,196.89 351.80,193.06 352.20,189.95 352.60,190.07 353.00,191.52 353.40,187.38 353.80,184.96 354.20,183.70 354.60,183.90 355.00,182.39 355.40,182.02 355.80,180.66 356.20,176.72 356.60,176.12 357.00,173.29 357.40,173.12 357.80,169.86 358.20,168.00 358.60,170.26 359.00,165.66 359.40,164.36 359.80,164.59 360.20,160.22 360.60,156.86 361.00,154.81 361.40,151.53 361.80,151.53 362.20,147.46 362.60,147.80 363.00,142.89 363.40,140.53 363.80,138.06 364.20,136.97 364.60,134.04 365.00,133.20 365.40,128.55 365.80,127.45 366.20,127.41 366.60,122.62 367.00,121.58 367.40,120.93 367.80,117.77 368.20,114.46 368.60,110.91 369.00,114.76 369.40,110.64 369.80,110.05 370.20,106.28 370.60,107.54 371.00,104.36 371.40,102.33 371.80,99.88 372.20,100.31 372.60,98.16 373.00,97.50 373.40,94.85 373.80,95.50 374.20,95.64 374.60,93.26 375.00,94.34 375.40,94.53 375.80,92.80 376.20,91.92 376.60,91.46 377.00,92.98 377.40,89.47 377.80,90.61 378.20,90.08 378.60,90.41 379.00,89.79 379.40,88.14 379.80,91.74 380.20,89.09 380.60,86.87 381.00,87.13 381.40,88.08 381.80,88.44 382.20,85.72 382.60,88.01 383.00,85.14 383.40,85.61 383.80,87.41 384.20,88.22 384.60,85.73 385.00,85.20 385.40,86.92 385.80,83.75 386.20,85.18 386.60,84.88 387.00,85.60 387.40,84.47 387.80,83.52 388.20,84.38 388.60,81.97 389.00,84.16 389.40,82.07 389.80,81.54 390.20,81.99 390.60,82.29 391.00,82.89 391.40,81.52 391.80,82.48 392.20,82.56 392.60,80.99 393.00,79.68 393.40,81.84 393.80,80.82 394.20,77.62 394.60,78.82 395.00,80.02 395.40,77.91 395.80,78.56 396.20,77.05 396.60,79.48 397.00,79.06 397.40,78.77 397.80,80.15 398.20,77.69 398.60,77.57 399.00,80.26 399.40,75.92 399.80,78.28 400.20,75.56 400.60,77.34 401.00,79.55 401.40,77.10 401.80,75.66 402.20,79.47 402.60,75.67 403.00,75.96 403.40,76.47 403.80,74.28 404.20,77.22 404.60,77.72 405.00,76.52 405.40,75.87 405.80,75.15 406.20,76.32 406.60,71.16 407.00,74.82 407.40,75.18 407.80,72.27 408.20,75.17 408.60,74.37 409.00,74.38 409.40,74.44 409.80,74.92 410.20,74.67 410.60,72.70 411.00,73.75 411.40,73.57 411.80,73.74 412.20,72.86 412.60,74.71 413.00,75.03 413.40,75.21 413.80,75.59 414.20,74.98 414.60,72.45 415.00,72.17 415.40,72.35 415.80,73.45 416.20,72.50 416.60,73.81 417.00,74.55 417.40,71.86 417.80,73.54 418.20,71.74 418.60,70.56 419.00,70.48 419.40,71.58 419.80,69.52 420.20,72.44 420.60,73.62 421.00,70.19 421.40,71.15 421.80,73.42 422.20,71.84 422.60,71.57 423.00,70.92 423.40,72.44 423.80,71.50 424.20,69.65 424.60,67.89 425.00,67.50 425.40,71.59 425.80,70.36 426.20,72.43 426.60,71.18 427.00,68.87 427.40,70.75 427.80,71.80 428.20,69.11 428.60,69.53 429.00,72.27 429.40,67.84 429.80,68.58 430.20,71.19 430.60,70.05 431.00,68.30 431.40,67.84 431.80,70.17 432.20,71.04 432.60,70.49 433.00,69.90 433.40,71.19 433.80,69.64 434.20,68.14 434.60,71.66 435.00,67.51 435.40,68.82 435.80,68.83 436.20,70.64 436.60,67.83 437.00,68.38 437.40,66.44 437.80,69.02 438.20,69.09 438.60,69.29 439.00,67.25 439.40,68.64 439.80,67.18 440.20,67.63 440.60,68.07 441.00,69.72 441.40,67.50 441.80,68.20 442.20,66.87 442.60,67.15 443.00,66.93 443.40,67.55 443.80,68.64 444.20,66.25 444.60,68.47 445.00,66.32 445.40,67.87 445.80,66.71 446.20,66.96 446.60,66.79 447.00,68.60 447.40,67.48 447.80,68.45 448.20,66.59 448.60,66.69 449.00,68.95 449.40,64.82 449.80,65.73 450.20,66.55 450.60,68.99 451.00,65.90 451.40,67.60 451.80,68.53 452.20,66.20 452.60,66.22 453.00,68.48 453.40,65.64 453.80,64.96 454.20,67.26 454.60,65.52 455.00,67.74 455.40,66.74 455.80,63.81 456.20,66.30 456.60,65.91 457.00,65.02 457.40,67.17 457.80,63.52 458.20,64.12 458.60,65.01 459.00,66.57 459.40,63.60 459.80,64.67 460.20,64.52 460.60,63.47 461.00,64.82 461.40,63.81 461.80,64.63 462.20,65.50 462.60,63.95 463.00,63.95 463.40,63.75 463.80,63.87 464.20,62.92 464.60,63.35 465.00,64.93 465.40,63.63 465.80,68.78 466.20,63.61 466.60,65.16 467.00,62.65 467.40,64.15 467.80,63.75 468.20,64.29 468.60,66.01 469.00,64.09 469.40,62.74 469.80,64.36 470.20,62.95 470.60,63.97 471.00,66.08 471.40,65.23 471.80,65.36 472.20,64.63 472.60,63.90 473.00,61.95 473.40,63.24 473.80,63.13 474.20,64.61 474.60,64.96 475.00,64.28 475.40,62.64 475.80,65.91 476.20,65.33 476.60,63.25 477.00,63.72 477.40,64.24 477.80,63.53 478.20,63.24 478.60,63.94 479.00,63.30 479.40,63.51 479.80,61.20 480.20,61.17 480.60,65.32 481.00,61.21 481.40,63.68 481.80,63.44 482.20,63.29 482.60,62.11 483.00,64.21 483.40,63.35 483.80,62.46 484.20,61.09 484.60,62.54 485.00,62.05 485.40,61.19 485.80,63.22 486.20,63.44 486.60,63.73 487.00,62.81 487.40,62.33 487.80,64.04 488.20,63.55 488.60,65.45 489.00,63.24 489.40,61.34 489.80,63.70 490.20,65.38 490.60,62.78 491.00,62.19 491.40,61.64 491.80,64.76 492.20,62.11 492.60,62.01 493.00,62.68 493.40,60.49 493.80,61.91 494.20,60.64 494.60,62.02 495.00,62.80 495.40,63.32 495.80,61.61 496.20,63.14 496.60,61.60 497.00,59.99 497.40,62.76 497.80,61.76 498.20,62.14 498.60,58.70 499.00,62.23 499.40,62.25 499.80,62.23 500.20,63.20 500.60,61.43 501.00,64.55 501.40,62.75 501.80,62.51 502.20,58.68 502.60,59.32 503.00,63.65 503.40,62.24 503.80,62.90 504.20,61.24 504.60,61.55 505.00,62.43 505.40,60.68 505.80,63.32 506.20,60.26 506.60,61.91 507.00,61.28 507.40,62.05 507.80,63.16 508.20,60.18 508.60,62.14 509.00,61.71 509.40,62.60 509.80,61.51 510.20,60.91 510.60,62.14 511.00,63.17 511.40,62.51 511.80,61.67 512.20,62.00 512.60,59.52 513.00,60.76 513.40,61.11 513.80,60.75 514.20,60.53 514.60,61.34 515.00,61.89 515.40,63.80 515.80,60.49 516.20,60.22 516.60,62.59"/>
<polyline fill="none" stroke="#d2332b" stroke-width="1.4" stroke-linejoin="round" opacity="1.0" points="337.00,183.20 337.40,183.51 337.80,182.72 338.20,181.88 338.60,182.35 339.00,181.60 339.40,182.83 339.80,184.33 340.20,181.91 340.60,181.62 341.00,182.88 341.40,182.60 341.80,182.19 342.20,180.85 342.60,181.97 343.00,182.91 343.40,180.42 343.80,181.62 344.20,179.93 344.60,180.83 345.00,180.29 345.40,182.46 345.80,181.42 346.20,183.73 346.60,184.11 347.00,184.30 347.40,182.12 347.80,185.64 348.20,187.88 348.60,189.93 349.00,189.55 349.40,192.60 349.80,193.77 350.20,195.29 350.60,197.94 351.00,195.33 351.40,195.77 351.80,196.25 352.20,193.66 352.60,193.13 353.00,192.01 353.40,190.40 353.80,187.20 354.20,187.32 354.60,187.44 355.00,182.30 355.40,183.77 355.80,181.29 356.20,178.75 356.60,180.43 357.00,177.22 357.40,173.06 357.80,172.90 358.20,171.73 358.60,168.92 359.00,168.07 359.40,165.10 359.80,163.92 360.20,162.73 360.60,157.89 361.00,156.75 361.40,153.67 361.80,152.16 362.20,148.27 362.60,146.81 363.00,145.11 363.40,144.31 363.80,142.39 364.20,137.05 364.60,135.46 365.00,135.03 365.40,129.56 365.80,129.38 366.20,127.84 366.60,127.67 367.00,125.17 367.40,122.16 367.80,120.42 368.20,118.93 368.60,119.56 369.00,115.58 369.40,114.26 369.80,113.64 370.20,111.67 370.60,110.25 371.00,107.79 371.40,107.87 371.80,106.07 372.20,106.87 372.60,105.08 373.00,103.16 373.40,103.05 373.80,100.93 374.20,101.91 374.60,99.88 375.00,99.96 375.40,96.99 375.80,98.45 376.20,95.36 376.60,94.41 377.00,96.08 377.40,94.88 377.80,95.78 378.20,97.96 378.60,93.72 379.00,93.60 379.40,94.28 379.80,94.29 380.20,93.11 380.60,92.75 381.00,93.57 381.40,93.04 381.80,90.81 382.20,91.72 382.60,91.59 383.00,89.95 383.40,91.33 383.80,89.68 384.20,91.71 384.60,90.49 385.00,90.11 385.40,89.02 385.80,89.37 386.20,86.79 386.60,87.64 387.00,89.28 387.40,85.95 387.80,89.45 388.20,86.00 388.60,88.93 389.00,86.72 389.40,88.56 389.80,87.56 390.20,85.30 390.60,88.60 391.00,88.67 391.40,86.63 391.80,86.21 392.20,86.20 392.60,85.04 393.00,87.49 393.40,85.31 393.80,85.79 394.20,84.74 394.60,84.83 395.00,83.89 395.40,86.95 395.80,85.07 396.20,86.36 396.60,85.06 397.00,84.06 397.40,84.41 397.80,84.01 398.20,84.62 398.60,84.03 399.00,84.01 399.40,82.55 399.80,83.16 400.20,86.12 400.60,83.10 401.00,82.50 401.40,84.13 401.80,85.35 402.20,81.65 402.60,83.10 403.00,82.45 403.40,80.92 403.80,83.93 404.20,82.86 404.60,82.87 405.00,81.72 405.40,83.11 405.80,81.75 406.20,82.13 406.60,80.81 407.00,80.56 407.40,83.63 407.80,81.21 408.20,82.10 408.60,81.57 409.00,80.95 409.40,80.75 409.80,82.06 410.20,80.78 410.60,80.85 411.00,80.96 411.40,82.29 411.80,81.55 412.20,81.07 412.60,79.77 413.00,78.64 413.40,81.44 413.80,81.35 414.20,79.85 414.60,80.60 415.00,80.79 415.40,80.74 415.80,80.74 416.20,78.91 416.60,81.27 417.00,77.71 417.40,80.24 417.80,79.67 418.20,80.04 418.60,81.19 419.00,80.59 419.40,77.20 419.80,76.42 420.20,79.45 420.60,77.06 421.00,78.21 421.40,79.18 421.80,75.97 422.20,75.29 422.60,78.16 423.00,77.79 423.40,77.33 423.80,77.59 424.20,76.38 424.60,75.47 425.00,77.06 425.40,75.96 425.80,75.03 426.20,77.63 426.60,76.83 427.00,77.32 427.40,75.49 427.80,75.82 428.20,75.30 428.60,75.36 429.00,76.62 429.40,75.32 429.80,76.65 430.20,76.55 430.60,78.57 431.00,74.22 431.40,76.98 431.80,75.68 432.20,75.69 432.60,73.81 433.00,74.97 433.40,76.39 433.80,75.28 434.20,75.41 434.60,74.86 435.00,76.59 435.40,75.04 435.80,72.24 436.20,74.04 436.60,72.37 437.00,70.69 437.40,74.01 437.80,76.27 438.20,74.58 438.60,72.98 439.00,73.19 439.40,75.71 439.80,74.42 440.20,74.20 440.60,74.00 441.00,74.04 441.40,74.92 441.80,74.53 442.20,74.04 442.60,72.39 443.00,74.26 443.40,72.69 443.80,74.84 444.20,71.81 444.60,73.16 445.00,73.24 445.40,71.53 445.80,75.26 446.20,74.86 446.60,72.38 447.00,73.85 447.40,73.29 447.80,69.48 448.20,72.99 448.60,72.52 449.00,72.63 449.40,71.11 449.80,72.05 450.20,72.09 450.60,73.72 451.00,72.58 451.40,72.08 451.80,73.93 452.20,71.25 452.60,71.38 453.00,69.52 453.40,73.68 453.80,72.85 454.20,72.71 454.60,72.33 455.00,71.55 455.40,71.61 455.80,70.95 456.20,70.93 456.60,71.18 457.00,72.92 457.40,71.65 457.80,70.81 458.20,70.08 458.60,69.93 459.00,72.65 459.40,71.21 459.80,70.58 460.20,69.99 460.60,68.96 461.00,70.18 461.40,71.28 461.80,69.62 462.20,69.76 462.60,69.69 463.00,70.02 463.40,67.82 463.80,69.44 464.20,68.59 464.60,70.69 465.00,68.55 465.40,70.16 465.80,71.27 466.20,68.90 466.60,68.46 467.00,69.38 467.40,69.07 467.80,67.76 468.20,69.50 468.60,71.38 469.00,68.46 469.40,68.46 469.80,67.34 470.20,68.97 470.60,66.95 471.00,67.05 471.40,69.97 471.80,67.17 472.20,69.59 472.60,70.08 473.00,68.43 473.40,68.73 473.80,70.42 474.20,67.67 474.60,67.11 475.00,66.10 475.40,67.78 475.80,69.51 476.20,68.81 476.60,66.37 477.00,66.42 477.40,66.80 477.80,67.74 478.20,67.06 478.60,67.53 479.00,67.58 479.40,66.79 479.80,67.06 480.20,67.31 480.60,66.90 481.00,67.59 481.40,69.25 481.80,67.60 482.20,66.89 482.60,64.66 483.00,67.21 483.40,64.25 483.80,64.88 484.20,67.67 484.60,67.45 485.00,66.34 485.40,64.35 485.80,65.99 486.20,65.57 486.60,67.17 487.00,69.16 487.40,66.57 487.80,65.29 488.20,64.77 488.60,66.12 489.00,65.94 489.40,64.68 489.80,66.23 490.20,64.61 490.60,67.40 491.00,67.31 491.40,67.30 491.80,65.31 492.20,66.52 492.60,65.67 493.00,65.32 493.40,65.34 493.80,64.11 494.20,63.90 494.60,66.66 495.00,65.40 495.40,65.87 495.80,66.82 496.20,63.37 496.60,64.52 497.00,65.69 497.40,65.93 497.80,64.94 498.20,66.67 498.60,65.61 499.00,63.80 499.40,64.12 499.80,66.27 500.20,65.81 500.60,62.83 501.00,66.86 501.40,65.89 501.80,66.80 502.20,64.61 502.60,64.69 503.00,63.63 503.40,68.18 503.80,64.77 504.20,66.94 504.60,64.13 505.00,65.12 505.40,62.80 505.80,64.39 506.20,66.07 506.60,63.25 507.00,66.14 507.40,65.20 507.80,63.45 508.20,64.11 508.60,64.14 509.00,64.63 509.40,64.01 509.80,63.62 510.20,64.26 510.60,63.34 511.00,63.00 511.40,64.53 511.80,65.68 512.20,62.65 512.60,64.55 513.00,63.72 513.40,63.30 513.80,65.57 514.20,63.85 514.60,66.36 515.00,63.50 515.40,64.95 515.80,64.17 516.20,63.50 516.60,65.17"/>
<polyline fill="none" stroke="#b52a35" stroke-width="1.3" points="339.6,183.5 340.2,191.5 340.8,184"/>
<text x="351.2" y="84.1" font-size="11.5" text-anchor="start" font-weight="normal" >HD</text>
<text x="382.8" y="164.0" font-size="11.5" text-anchor="start" font-weight="normal" >LD</text>
<rect x="230.4" y="253.4" width="13.2" height="12.4" fill="#2f4fa5"/>
<text x="246.6" y="264.2" font-size="12" text-anchor="start" font-weight="normal" >Control</text>
<rect x="297.8" y="253.4" width="13.4" height="12.4" fill="#cf2a24"/>
<text x="313.6" y="264.2" font-size="12" text-anchor="start" font-weight="normal" >Riam<tspan font-size="6.5" dy="-6">-/-</tspan></text>
<line x1="55.7" y1="325.8" x2="55.7" y2="503.6" stroke="#111" stroke-width="1.8"/>
<line x1="54.800000000000004" y1="498.3" x2="228.38000000000002" y2="498.3" stroke="#111" stroke-width="1.8"/>
<line x1="50.7" y1="494.8" x2="55.7" y2="494.8" stroke="#111" stroke-width="1.8"/>
<text x="50.2" y="499.8" font-size="12.6" text-anchor="end" font-weight="normal" >100</text>
<line x1="50.7" y1="417.20000000000005" x2="55.7" y2="417.20000000000005" stroke="#111" stroke-width="1.8"/>
<text x="50.2" y="422.20000000000005" font-size="12.6" text-anchor="end" font-weight="normal" >1000</text>
<line x1="50.7" y1="339.6" x2="55.7" y2="339.6" stroke="#111" stroke-width="1.8"/>
<text x="50.2" y="344.6" font-size="12.6" text-anchor="end" font-weight="normal" >10000</text>
<line x1="52.1" y1="471.44007233647505" x2="55.7" y2="471.44007233647505" stroke="#111" stroke-width="1.6"/>
<line x1="52.1" y1="457.7753906337542" x2="55.7" y2="457.7753906337542" stroke="#111" stroke-width="1.6"/>
<line x1="52.1" y1="448.08014467295015" x2="55.7" y2="448.08014467295015" stroke="#111" stroke-width="1.6"/>
<line x1="52.1" y1="440.55992766352495" x2="55.7" y2="440.55992766352495" stroke="#111" stroke-width="1.6"/>
<line x1="52.1" y1="434.41546297022927" x2="55.7" y2="434.41546297022927" stroke="#111" stroke-width="1.6"/>
<line x1="52.1" y1="429.22039209489367" x2="55.7" y2="429.22039209489367" stroke="#111" stroke-width="1.6"/>
<line x1="52.1" y1="424.7202170094252" x2="55.7" y2="424.7202170094252" stroke="#111" stroke-width="1.6"/>
<line x1="52.1" y1="420.7507812675084" x2="55.7" y2="420.7507812675084" stroke="#111" stroke-width="1.6"/>
<line x1="52.1" y1="393.8400723364751" x2="55.7" y2="393.8400723364751" stroke="#111" stroke-width="1.6"/>
<line x1="52.1" y1="380.1753906337542" x2="55.7" y2="380.1753906337542" stroke="#111" stroke-width="1.6"/>
<line x1="52.1" y1="370.48014467295013" x2="55.7" y2="370.48014467295013" stroke="#111" stroke-width="1.6"/>
<line x1="52.1" y1="362.959927663525" x2="55.7" y2="362.959927663525" stroke="#111" stroke-width="1.6"/>
<line x1="52.1" y1="356.81546297022925" x2="55.7" y2="356.81546297022925" stroke="#111" stroke-width="1.6"/>
<line x1="52.1" y1="351.62039209489365" x2="55.7" y2="351.62039209489365" stroke="#111" stroke-width="1.6"/>
<line x1="52.1" y1="347.1202170094252" x2="55.7" y2="347.1202170094252" stroke="#111" stroke-width="1.6"/>
<line x1="52.1" y1="343.1507812675084" x2="55.7" y2="343.1507812675084" stroke="#111" stroke-width="1.6"/>
<line x1="55.7" y1="498.3" x2="55.7" y2="503.6" stroke="#111" stroke-width="1.8"/>
<text x="55.7" y="516.6" font-size="12.4" text-anchor="middle" font-weight="normal" >0</text>
<line x1="84.33" y1="498.3" x2="84.33" y2="501.6" stroke="#111" stroke-width="1.8"/>
<line x1="112.96000000000001" y1="498.3" x2="112.96000000000001" y2="503.6" stroke="#111" stroke-width="1.8"/>
<text x="112.96000000000001" y="516.6" font-size="12.4" text-anchor="middle" font-weight="normal" >2</text>
<line x1="141.59" y1="498.3" x2="141.59" y2="501.6" stroke="#111" stroke-width="1.8"/>
<line x1="170.22" y1="498.3" x2="170.22" y2="503.6" stroke="#111" stroke-width="1.8"/>
<text x="170.22" y="516.6" font-size="12.4" text-anchor="middle" font-weight="normal" >4</text>
<line x1="198.85000000000002" y1="498.3" x2="198.85000000000002" y2="501.6" stroke="#111" stroke-width="1.8"/>
<line x1="227.48000000000002" y1="498.3" x2="227.48000000000002" y2="503.6" stroke="#111" stroke-width="1.8"/>
<text x="227.48000000000002" y="516.6" font-size="12.4" text-anchor="middle" font-weight="normal" >6</text>
<text transform="translate(14.2,415.7) rotate(-90)" font-size="14.5" text-anchor="middle">MFI (JON/A-PE)</text>
<text x="85.4" y="342.1" font-size="14" text-anchor="start" font-weight="normal" >Par4p</text>
<line x1="331.0" y1="325.8" x2="331.0" y2="503.6" stroke="#111" stroke-width="1.8"/>
<line x1="330.1" y1="498.3" x2="504.58" y2="498.3" stroke="#111" stroke-width="1.8"/>
<line x1="326.0" y1="494.8" x2="331.0" y2="494.8" stroke="#111" stroke-width="1.8"/>
<text x="325.5" y="499.8" font-size="12.6" text-anchor="end" font-weight="normal" >100</text>
<line x1="326.0" y1="417.20000000000005" x2="331.0" y2="417.20000000000005" stroke="#111" stroke-width="1.8"/>
<text x="325.5" y="422.20000000000005" font-size="12.6" text-anchor="end" font-weight="normal" >1000</text>
<line x1="326.0" y1="339.6" x2="331.0" y2="339.6" stroke="#111" stroke-width="1.8"/>
<text x="325.5" y="344.6" font-size="12.6" text-anchor="end" font-weight="normal" >10000</text>
<line x1="327.4" y1="471.44007233647505" x2="331.0" y2="471.44007233647505" stroke="#111" stroke-width="1.6"/>
<line x1="327.4" y1="457.7753906337542" x2="331.0" y2="457.7753906337542" stroke="#111" stroke-width="1.6"/>
<line x1="327.4" y1="448.08014467295015" x2="331.0" y2="448.08014467295015" stroke="#111" stroke-width="1.6"/>
<line x1="327.4" y1="440.55992766352495" x2="331.0" y2="440.55992766352495" stroke="#111" stroke-width="1.6"/>
<line x1="327.4" y1="434.41546297022927" x2="331.0" y2="434.41546297022927" stroke="#111" stroke-width="1.6"/>
<line x1="327.4" y1="429.22039209489367" x2="331.0" y2="429.22039209489367" stroke="#111" stroke-width="1.6"/>
<line x1="327.4" y1="424.7202170094252" x2="331.0" y2="424.7202170094252" stroke="#111" stroke-width="1.6"/>
<line x1="327.4" y1="420.7507812675084" x2="331.0" y2="420.7507812675084" stroke="#111" stroke-width="1.6"/>
<line x1="327.4" y1="393.8400723364751" x2="331.0" y2="393.8400723364751" stroke="#111" stroke-width="1.6"/>
<line x1="327.4" y1="380.1753906337542" x2="331.0" y2="380.1753906337542" stroke="#111" stroke-width="1.6"/>
<line x1="327.4" y1="370.48014467295013" x2="331.0" y2="370.48014467295013" stroke="#111" stroke-width="1.6"/>
<line x1="327.4" y1="362.959927663525" x2="331.0" y2="362.959927663525" stroke="#111" stroke-width="1.6"/>
<line x1="327.4" y1="356.81546297022925" x2="331.0" y2="356.81546297022925" stroke="#111" stroke-width="1.6"/>
<line x1="327.4" y1="351.62039209489365" x2="331.0" y2="351.62039209489365" stroke="#111" stroke-width="1.6"/>
<line x1="327.4" y1="347.1202170094252" x2="331.0" y2="347.1202170094252" stroke="#111" stroke-width="1.6"/>
<line x1="327.4" y1="343.1507812675084" x2="331.0" y2="343.1507812675084" stroke="#111" stroke-width="1.6"/>
<line x1="331.0" y1="498.3" x2="331.0" y2="503.6" stroke="#111" stroke-width="1.8"/>
<text x="331.0" y="516.6" font-size="12.4" text-anchor="middle" font-weight="normal" >0</text>
<line x1="359.78" y1="498.3" x2="359.78" y2="501.6" stroke="#111" stroke-width="1.8"/>
<line x1="388.56" y1="498.3" x2="388.56" y2="503.6" stroke="#111" stroke-width="1.8"/>
<text x="388.56" y="516.6" font-size="12.4" text-anchor="middle" font-weight="normal" >2</text>
<line x1="417.34000000000003" y1="498.3" x2="417.34000000000003" y2="501.6" stroke="#111" stroke-width="1.8"/>
<line x1="446.12" y1="498.3" x2="446.12" y2="503.6" stroke="#111" stroke-width="1.8"/>
<text x="446.12" y="516.6" font-size="12.4" text-anchor="middle" font-weight="normal" >4</text>
<line x1="474.9" y1="498.3" x2="474.9" y2="501.6" stroke="#111" stroke-width="1.8"/>
<line x1="503.68" y1="498.3" x2="503.68" y2="503.6" stroke="#111" stroke-width="1.8"/>
<text x="503.68" y="516.6" font-size="12.4" text-anchor="middle" font-weight="normal" >6</text>
<text transform="translate(290.6,415.7) rotate(-90)" font-size="14.5" text-anchor="middle">MFI (JON/A-PE)</text>
<text x="365.3" y="342.1" font-size="14.6" text-anchor="start" font-weight="normal" >Convulxin</text>
<text x="142.0" y="543.0" font-size="12.5" text-anchor="middle" font-weight="normal" >Time (mins)</text>
<text x="417.4" y="542.7" font-size="12.5" text-anchor="middle" font-weight="normal" >Time (mins)</text>
<rect x="208.8" y="539.5" width="13" height="11.5" fill="#2f4fa5"/>
<text x="222.6" y="550.3" font-size="12" text-anchor="start" font-weight="normal" >Control</text>
<rect x="273.7" y="539.5" width="12.6" height="11.6" fill="#cf2a24"/>
<text x="290.6" y="550.4" font-size="12" text-anchor="start" font-weight="normal" >Riam<tspan font-size="6.5" dy="-6">-/-</tspan></text>
<polygon fill="#3552a8" opacity="1.0" points="65.20,482.67 65.70,476.28 66.20,472.21 66.70,470.31 67.20,467.23 67.70,464.54 68.20,460.80 68.70,458.54 69.20,455.18 69.70,454.53 70.20,449.03 70.70,447.67 71.20,444.60 71.70,443.15 72.20,441.46 72.70,438.97 73.20,436.91 73.70,436.04 74.20,434.33 74.70,431.97 75.20,431.48 75.70,430.16 76.20,426.63 76.70,425.40 77.20,424.39 77.70,421.68 78.20,419.80 78.70,418.83 79.20,417.58 79.70,414.94 80.20,412.89 80.70,412.50 81.20,411.70 81.70,409.65 82.20,408.33 82.70,408.15 83.20,406.54 83.70,405.26 84.20,405.41 84.70,405.08 85.20,403.37 85.70,402.70 86.20,401.29 86.70,402.48 87.20,401.28 87.70,400.72 88.20,400.74 88.70,398.56 89.20,397.55 89.70,397.89 90.20,395.53 90.70,395.33 91.20,394.85 91.70,394.40 92.20,393.33 92.70,394.55 93.20,392.38 93.70,391.79 94.20,393.09 94.70,390.80 95.20,390.69 95.70,389.27 96.20,389.65 96.70,388.72 97.20,387.84 97.70,388.23 98.20,386.47 98.70,386.46 99.20,385.42 99.70,385.68 100.20,383.85 100.70,383.71 101.20,383.82 101.70,382.66 102.20,381.66 102.70,380.75 103.20,382.96 103.70,380.51 104.20,380.38 104.70,380.36 105.20,380.62 105.70,378.35 106.20,379.90 106.70,377.99 107.20,376.95 107.70,378.82 108.20,377.35 108.70,377.71 109.20,376.04 109.70,374.60 110.20,373.77 110.70,376.39 111.20,375.01 111.70,373.57 112.20,372.45 112.70,372.96 113.20,373.49 113.70,372.24 114.20,372.09 114.70,371.84 115.20,371.86 115.70,370.57 116.20,370.24 116.70,370.17 117.20,369.89 117.70,370.36 118.20,369.34 118.70,367.61 119.20,368.36 119.70,369.00 120.20,366.42 120.70,366.71 121.20,365.09 121.70,366.37 122.20,366.44 122.70,366.88 123.20,364.32 123.70,362.98 124.20,365.34 124.70,364.87 125.20,363.53 125.70,364.34 126.20,363.56 126.70,363.29 127.20,362.53 127.70,361.48 128.20,362.02 128.70,360.98 129.20,361.73 129.70,360.82 130.20,362.48 130.70,361.62 131.20,359.52 131.70,360.33 132.20,359.09 132.70,358.83 133.20,357.91 133.70,358.03 134.20,357.58 134.70,358.20 135.20,358.39 135.70,358.14 136.20,357.67 136.70,357.91 137.20,357.17 137.70,356.53 138.20,355.99 138.70,356.19 139.20,357.19 139.70,355.45 140.20,354.95 140.70,354.00 141.20,354.15 141.70,354.87 142.20,354.68 142.70,352.24 143.20,353.00 143.70,351.90 144.20,351.42 144.70,353.54 145.20,352.34 145.70,352.05 146.20,351.75 146.70,351.54 147.20,351.59 147.70,351.40 148.20,352.53 148.70,351.25 149.20,351.51 149.70,350.62 150.20,350.90 150.70,349.84 151.20,349.49 151.70,349.72 152.20,349.53 152.70,349.53 153.20,349.79 153.70,349.39 154.20,349.49 154.70,348.62 155.20,348.75 155.70,348.14 156.20,349.51 156.70,347.57 157.20,348.74 157.70,348.56 158.20,347.98 158.70,348.12 159.20,347.29 159.70,347.83 160.20,348.08 160.70,347.75 161.20,345.87 161.70,346.74 162.20,347.56 162.70,346.48 163.20,347.58 163.70,344.76 164.20,347.26 164.70,345.51 165.20,345.31 165.70,346.75 166.20,345.20 166.70,344.49 167.20,344.77 167.70,344.79 168.20,344.09 168.70,344.57 169.20,344.28 169.70,344.51 170.20,343.76 170.70,344.87 171.20,343.34 171.70,344.23 172.20,344.55 172.70,343.24 173.20,342.03 173.70,342.48 174.20,343.51 174.70,342.40 175.20,343.18 175.70,342.77 176.20,342.46 176.70,344.24 177.20,342.09 177.70,342.93 178.20,342.52 178.70,343.00 179.20,342.90 179.70,342.30 180.20,340.74 180.70,339.93 181.20,341.15 181.70,340.11 182.20,341.06 182.70,342.24 183.20,340.45 183.70,340.08 184.20,340.64 184.70,339.92 185.20,339.57 185.70,340.58 186.20,340.94 186.70,339.80 187.20,339.66 187.70,339.64 188.20,338.43 188.70,337.71 189.20,339.29 189.70,338.26 190.20,337.94 190.70,337.99 191.20,337.59 191.70,338.61 192.20,337.57 192.70,336.41 193.20,337.26 193.70,338.27 194.20,337.16 194.70,336.51 195.20,337.09 195.70,337.71 196.20,335.90 196.70,338.00 197.20,336.47 197.70,336.76 198.20,337.58 198.70,335.52 199.20,336.08 199.70,337.16 200.20,335.62 200.70,336.32 201.20,337.36 201.70,336.27 202.20,335.39 202.70,334.97 203.20,335.23 203.70,335.22 204.20,334.78 204.70,335.22 205.20,334.02 205.70,334.76 206.20,334.55 206.70,334.27 207.20,335.46 207.70,335.09 208.20,333.21 208.70,334.08 209.20,334.49 209.70,333.91 210.20,334.48 210.70,333.79 211.20,334.46 211.70,333.63 212.20,335.03 212.70,332.62 213.20,334.02 213.70,334.80 214.20,333.63 214.70,333.68 215.20,333.18 215.70,334.15 216.20,332.84 216.70,330.19 217.20,334.05 217.70,332.69 218.20,333.14 218.70,332.67 219.20,334.21 219.70,333.62 220.20,332.28 220.70,332.62 221.20,331.22 221.70,333.04 222.20,332.29 222.70,330.05 223.20,332.94 223.70,333.01 224.20,332.27 224.70,332.24 225.20,331.49 225.70,332.02 226.20,332.70 226.70,331.89 227.20,329.92 227.70,330.99 227.80,353.47 227.30,355.60 226.80,355.03 226.30,356.24 225.80,355.63 225.30,357.34 224.80,356.57 224.30,356.57 223.80,356.04 223.30,355.89 222.80,356.24 222.30,357.05 221.80,356.48 221.30,355.83 220.80,357.18 220.30,356.37 219.80,356.21 219.30,355.69 218.80,355.94 218.30,355.94 217.80,354.28 217.30,357.40 216.80,357.11 216.30,356.56 215.80,357.64 215.30,357.23 214.80,357.25 214.30,355.05 213.80,356.93 213.30,357.62 212.80,358.57 212.30,358.84 211.80,358.59 211.30,356.61 210.80,355.87 210.30,358.17 209.80,357.82 209.30,358.66 208.80,357.88 208.30,358.25 207.80,356.97 207.30,358.62 206.80,358.00 206.30,358.73 205.80,358.92 205.30,358.55 204.80,358.99 204.30,358.83 203.80,359.57 203.30,359.49 202.80,358.78 202.30,358.89 201.80,360.90 201.30,359.57 200.80,360.60 200.30,360.28 199.80,359.67 199.30,359.67 198.80,360.52 198.30,360.78 197.80,361.21 197.30,359.84 196.80,360.51 196.30,361.05 195.80,362.54 195.30,359.50 194.80,361.87 194.30,361.21 193.80,362.11 193.30,361.50 192.80,362.31 192.30,363.39 191.80,362.54 191.30,362.73 190.80,362.80 190.30,362.02 189.80,363.17 189.30,362.69 188.80,362.32 188.30,363.05 187.80,363.02 187.30,363.92 186.80,363.40 186.30,363.12 185.80,364.82 185.30,364.56 184.80,364.90 184.30,364.49 183.80,364.03 183.30,363.90 182.80,364.13 182.30,365.23 181.80,364.67 181.30,363.52 180.80,364.79 180.30,363.81 179.80,365.20 179.30,364.22 178.80,364.30 178.30,365.53 177.80,365.50 177.30,364.36 176.80,366.41 176.30,367.67 175.80,364.89 175.30,367.67 174.80,365.79 174.30,366.09 173.80,366.48 173.30,365.61 172.80,367.95 172.30,367.45 171.80,366.60 171.30,367.13 170.80,366.29 170.30,367.38 169.80,368.57 169.30,366.61 168.80,367.80 168.30,368.43 167.80,369.32 167.30,369.74 166.80,368.47 166.30,368.42 165.80,369.56 165.30,369.10 164.80,369.33 164.30,370.64 163.80,371.35 163.30,370.44 162.80,370.31 162.30,371.17 161.80,369.46 161.30,371.22 160.80,370.66 160.30,373.71 159.80,372.66 159.30,372.49 158.80,372.53 158.30,370.98 157.80,373.87 157.30,374.92 156.80,373.35 156.30,374.79 155.80,375.14 155.30,373.65 154.80,375.95 154.30,376.60 153.80,376.02 153.30,376.10 152.80,377.09 152.30,375.53 151.80,377.14 151.30,378.20 150.80,376.66 150.30,378.73 149.80,377.88 149.30,376.82 148.80,378.67 148.30,378.24 147.80,379.54 147.30,378.62 146.80,380.66 146.30,379.49 145.80,380.63 145.30,380.13 144.80,380.61 144.30,382.08 143.80,381.56 143.30,381.33 142.80,380.90 142.30,383.09 141.80,383.00 141.30,382.41 140.80,383.13 140.30,382.37 139.80,382.64 139.30,383.05 138.80,384.26 138.30,384.47 137.80,383.90 137.30,385.35 136.80,385.66 136.30,385.44 135.80,386.40 135.30,385.61 134.80,386.02 134.30,386.76 133.80,386.63 133.30,387.57 132.80,386.20 132.30,388.62 131.80,387.13 131.30,387.90 130.80,387.21 130.30,389.07 129.80,389.89 129.30,390.00 128.80,390.09 128.30,388.46 127.80,389.36 127.30,389.90 126.80,389.80 126.30,391.73 125.80,391.27 125.30,391.39 124.80,392.08 124.30,391.22 123.80,391.54 123.30,391.85 122.80,393.25 122.30,393.42 121.80,393.90 121.30,394.59 120.80,392.94 120.30,393.87 119.80,394.74 119.30,393.84 118.80,394.79 118.30,396.33 117.80,396.71 117.30,396.99 116.80,396.47 116.30,396.58 115.80,397.92 115.30,397.07 114.80,397.95 114.30,399.05 113.80,398.01 113.30,398.13 112.80,398.92 112.30,399.73 111.80,399.95 111.30,400.01 110.80,400.65 110.30,399.24 109.80,400.15 109.30,401.29 108.80,400.73 108.30,400.72 107.80,401.15 107.30,401.71 106.80,402.62 106.30,402.26 105.80,403.59 105.30,405.08 104.80,403.93 104.30,405.39 103.80,404.92 103.30,404.11 102.80,405.12 102.30,404.85 101.80,406.56 101.30,405.32 100.80,407.60 100.30,407.30 99.80,405.51 99.30,408.05 98.80,408.96 98.30,407.38 97.80,409.10 97.30,407.18 96.80,409.14 96.30,407.93 95.80,409.97 95.30,408.50 94.80,408.18 94.30,410.98 93.80,412.88 93.30,410.97 92.80,412.54 92.30,412.41 91.80,412.53 91.30,413.78 90.80,415.12 90.30,413.36 89.80,415.36 89.30,415.77 88.80,414.97 88.30,418.03 87.80,418.94 87.30,417.29 86.80,420.13 86.30,419.49 85.80,420.05 85.30,422.16 84.80,421.95 84.30,422.87 83.80,424.71 83.30,425.45 82.80,426.08 82.30,425.24 81.80,426.13 81.30,429.35 80.80,428.81 80.30,430.88 79.80,431.22 79.30,433.31 78.80,433.85 78.30,437.60 77.80,436.88 77.30,438.93 76.80,440.17 76.30,442.58 75.80,441.81 75.30,444.31 74.80,445.58 74.30,447.61 73.80,449.05 73.30,449.85 72.80,452.02 72.30,453.23 71.80,455.67 71.30,457.10 70.80,458.68 70.30,461.38 69.80,464.11 69.30,468.26 68.80,468.90 68.30,472.55 67.80,476.67 67.30,477.87 66.80,486.11 66.30,491.55 65.80,492.41 65.30,494.45"/>
<polygon fill="#e0605a" opacity="1.0" points="65.20,483.01 65.70,476.83 66.20,472.90 66.70,469.62 67.20,466.00 67.70,465.38 68.20,462.06 68.70,459.85 69.20,456.17 69.70,452.56 70.20,450.60 70.70,447.50 71.20,446.98 71.70,443.22 72.20,442.18 72.70,438.22 73.20,437.16 73.70,435.42 74.20,434.55 74.70,432.33 75.20,430.56 75.70,429.52 76.20,427.64 76.70,425.26 77.20,423.64 77.70,421.81 78.20,419.95 78.70,418.76 79.20,416.08 79.70,416.54 80.20,413.25 80.70,413.12 81.20,411.84 81.70,411.34 82.20,409.32 82.70,408.41 83.20,407.13 83.70,406.82 84.20,405.47 84.70,403.27 85.20,403.62 85.70,403.66 86.20,401.70 86.70,401.85 87.20,400.57 87.70,399.86 88.20,399.97 88.70,400.50 89.20,398.55 89.70,397.16 90.20,397.24 90.70,395.94 91.20,394.86 91.70,395.45 92.20,393.41 92.70,392.49 93.20,392.31 93.70,391.64 94.20,391.10 94.70,389.58 95.20,390.64 95.70,390.19 96.20,389.12 96.70,389.73 97.20,389.66 97.70,388.54 98.20,386.95 98.70,386.30 99.20,387.34 99.70,387.07 100.20,385.27 100.70,384.64 101.20,384.01 101.70,382.93 102.20,381.98 102.70,382.29 103.20,381.50 103.70,382.39 104.20,381.98 104.70,380.39 105.20,379.59 105.70,379.08 106.20,378.74 106.70,378.14 107.20,377.68 107.70,379.30 108.20,378.06 108.70,376.69 109.20,376.17 109.70,377.45 110.20,374.90 110.70,375.80 111.20,375.25 111.70,374.45 112.20,373.69 112.70,375.06 113.20,372.74 113.70,373.10 114.20,373.41 114.70,372.65 115.20,373.82 115.70,372.23 116.20,371.21 116.70,371.58 117.20,370.93 117.70,370.44 118.20,369.95 118.70,368.83 119.20,369.34 119.70,369.20 120.20,368.24 120.70,366.69 121.20,368.31 121.70,367.31 122.20,368.67 122.70,366.02 123.20,366.25 123.70,365.41 124.20,366.22 124.70,366.70 125.20,364.86 125.70,364.66 126.20,365.66 126.70,365.85 127.20,364.03 127.70,364.23 128.20,361.72 128.70,364.02 129.20,363.67 129.70,363.06 130.20,364.02 130.70,363.13 131.20,360.83 131.70,361.99 132.20,362.11 132.70,362.38 133.20,360.64 133.70,360.32 134.20,360.39 134.70,360.66 135.20,359.86 135.70,359.55 136.20,360.16 136.70,358.88 137.20,360.84 137.70,359.94 138.20,358.92 138.70,358.53 139.20,359.15 139.70,357.73 140.20,356.93 140.70,357.19 141.20,357.15 141.70,356.45 142.20,356.57 142.70,357.60 143.20,356.63 143.70,355.23 144.20,356.97 144.70,355.80 145.20,355.96 145.70,356.16 146.20,356.06 146.70,354.97 147.20,354.60 147.70,354.41 148.20,355.63 148.70,354.51 149.20,353.82 149.70,353.15 150.20,353.19 150.70,352.88 151.20,352.49 151.70,352.53 152.20,353.67 152.70,352.80 153.20,353.25 153.70,354.41 154.20,353.68 154.70,350.50 155.20,352.90 155.70,353.64 156.20,352.16 156.70,350.31 157.20,351.41 157.70,350.89 158.20,351.27 158.70,350.97 159.20,349.74 159.70,349.96 160.20,350.51 160.70,349.58 161.20,349.28 161.70,350.16 162.20,349.62 162.70,349.49 163.20,350.07 163.70,348.47 164.20,349.37 164.70,349.59 165.20,350.28 165.70,349.80 166.20,347.42 166.70,349.40 167.20,348.00 167.70,348.49 168.20,347.64 168.70,347.42 169.20,348.37 169.70,347.84 170.20,347.38 170.70,347.22 171.20,347.19 171.70,347.27 172.20,346.37 172.70,345.68 173.20,346.16 173.70,347.04 174.20,345.98 174.70,346.11 175.20,345.65 175.70,344.40 176.20,345.90 176.70,345.60 177.20,346.16 177.70,345.54 178.20,345.62 178.70,343.74 179.20,344.64 179.70,345.20 180.20,343.06 180.70,345.53 181.20,343.64 181.70,343.37 182.20,343.59 182.70,344.12 183.20,343.88 183.70,343.91 184.20,342.87 184.70,345.23 185.20,343.64 185.70,342.97 186.20,343.42 186.70,344.28 187.20,342.88 187.70,343.16 188.20,341.78 188.70,341.17 189.20,342.10 189.70,343.57 190.20,342.05 190.70,342.50 191.20,341.08 191.70,340.14 192.20,341.11 192.70,339.61 193.20,339.89 193.70,340.42 194.20,341.53 194.70,340.55 195.20,341.66 195.70,339.54 196.20,340.14 196.70,339.00 197.20,339.74 197.70,341.39 198.20,339.19 198.70,338.83 199.20,338.11 199.70,340.09 200.20,339.92 200.70,339.00 201.20,339.77 201.70,339.90 202.20,339.56 202.70,336.49 203.20,338.96 203.70,339.17 204.20,338.62 204.70,338.16 205.20,337.05 205.70,337.24 206.20,337.27 206.70,337.78 207.20,337.60 207.70,338.15 208.20,338.76 208.70,335.84 209.20,337.75 209.70,336.49 210.20,337.47 210.70,337.21 211.20,337.17 211.70,338.07 212.20,336.95 212.70,336.51 213.20,336.07 213.70,336.26 214.20,335.76 214.70,336.27 215.20,336.44 215.70,337.93 216.20,336.72 216.70,334.98 217.20,336.06 217.70,335.45 218.20,336.19 218.70,336.50 219.20,334.26 219.70,335.55 220.20,334.58 220.70,335.30 221.20,335.90 221.70,337.41 222.20,335.49 222.70,336.77 223.20,337.24 223.70,334.43 224.20,334.80 224.70,334.82 225.20,335.26 225.70,335.29 226.20,334.89 226.70,335.07 227.20,335.11 227.70,334.55 227.80,355.30 227.30,357.99 226.80,356.78 226.30,357.99 225.80,358.27 225.30,356.67 224.80,358.01 224.30,358.03 223.80,356.86 223.30,357.03 222.80,357.58 222.30,355.75 221.80,357.22 221.30,357.77 220.80,357.31 220.30,356.44 219.80,357.46 219.30,359.05 218.80,358.96 218.30,357.86 217.80,357.38 217.30,358.08 216.80,358.17 216.30,357.69 215.80,358.04 215.30,358.88 214.80,359.21 214.30,356.58 213.80,359.40 213.30,358.81 212.80,359.70 212.30,358.85 211.80,359.30 211.30,360.35 210.80,356.75 210.30,360.49 209.80,359.46 209.30,357.94 208.80,357.35 208.30,359.83 207.80,358.85 207.30,360.57 206.80,360.03 206.30,359.85 205.80,360.85 205.30,360.30 204.80,360.84 204.30,361.01 203.80,360.72 203.30,361.22 202.80,361.35 202.30,359.77 201.80,360.79 201.30,361.06 200.80,361.01 200.30,360.19 199.80,361.16 199.30,362.04 198.80,362.08 198.30,363.29 197.80,361.73 197.30,362.01 196.80,362.03 196.30,362.37 195.80,362.27 195.30,361.39 194.80,363.29 194.30,363.94 193.80,364.17 193.30,362.52 192.80,363.36 192.30,365.12 191.80,363.67 191.30,364.16 190.80,363.88 190.30,364.92 189.80,365.01 189.30,366.21 188.80,364.87 188.30,364.94 187.80,363.73 187.30,364.49 186.80,364.37 186.30,364.78 185.80,364.11 185.30,366.25 184.80,364.55 184.30,365.72 183.80,364.61 183.30,366.01 182.80,367.18 182.30,365.31 181.80,366.38 181.30,366.15 180.80,366.55 180.30,366.78 179.80,366.05 179.30,366.54 178.80,366.34 178.30,366.27 177.80,366.08 177.30,367.96 176.80,366.72 176.30,367.98 175.80,368.02 175.30,366.91 174.80,368.68 174.30,367.29 173.80,368.63 173.30,369.43 172.80,367.83 172.30,367.81 171.80,367.95 171.30,370.69 170.80,368.71 170.30,368.15 169.80,369.97 169.30,369.34 168.80,369.62 168.30,369.01 167.80,368.20 167.30,369.57 166.80,369.49 166.30,369.21 165.80,369.82 165.30,370.12 164.80,371.71 164.30,371.84 163.80,371.90 163.30,371.29 162.80,370.95 162.30,372.44 161.80,372.83 161.30,373.53 160.80,372.98 160.30,373.18 159.80,373.82 159.30,373.13 158.80,373.53 158.30,374.99 157.80,373.78 157.30,375.04 156.80,376.05 156.30,375.93 155.80,376.40 155.30,375.49 154.80,376.60 154.30,376.80 153.80,377.82 153.30,377.98 152.80,377.98 152.30,379.79 151.80,379.00 151.30,378.64 150.80,378.67 150.30,379.41 149.80,379.26 149.30,381.30 148.80,380.72 148.30,380.29 147.80,380.28 147.30,380.21 146.80,381.12 146.30,382.65 145.80,382.54 145.30,382.08 144.80,382.50 144.30,381.15 143.80,383.51 143.30,382.99 142.80,384.52 142.30,383.54 141.80,383.55 141.30,384.37 140.80,383.95 140.30,385.79 139.80,385.21 139.30,385.54 138.80,385.77 138.30,385.49 137.80,386.42 137.30,386.44 136.80,387.97 136.30,386.88 135.80,387.40 135.30,387.01 134.80,387.36 134.30,387.69 133.80,389.24 133.30,388.55 132.80,389.54 132.30,388.84 131.80,389.03 131.30,388.06 130.80,390.54 130.30,391.81 129.80,390.26 129.30,391.87 128.80,391.68 128.30,390.73 127.80,392.18 127.30,391.13 126.80,391.89 126.30,393.39 125.80,392.83 125.30,392.05 124.80,394.40 124.30,392.68 123.80,393.72 123.30,393.86 122.80,394.30 122.30,394.04 121.80,393.71 121.30,396.79 120.80,394.85 120.30,395.19 119.80,394.25 119.30,396.57 118.80,397.83 118.30,398.22 117.80,399.62 117.30,398.91 116.80,398.35 116.30,398.35 115.80,399.79 115.30,398.92 114.80,399.42 114.30,398.81 113.80,399.97 113.30,401.78 112.80,400.46 112.30,401.15 111.80,399.23 111.30,402.54 110.80,402.08 110.30,403.23 109.80,402.61 109.30,402.05 108.80,401.96 108.30,403.77 107.80,403.66 107.30,403.22 106.80,404.26 106.30,404.12 105.80,405.52 105.30,404.94 104.80,404.60 104.30,405.83 103.80,405.76 103.30,407.71 102.80,406.47 102.30,406.10 101.80,407.40 101.30,407.54 100.80,408.25 100.30,408.50 99.80,407.79 99.30,408.86 98.80,409.11 98.30,408.53 97.80,409.33 97.30,410.25 96.80,409.12 96.30,409.85 95.80,410.67 95.30,411.31 94.80,412.14 94.30,411.02 93.80,412.72 93.30,413.39 92.80,414.54 92.30,413.42 91.80,413.49 91.30,413.49 90.80,415.68 90.30,416.81 89.80,415.80 89.30,417.29 88.80,418.24 88.30,418.95 87.80,418.52 87.30,420.03 86.80,420.17 86.30,420.17 85.80,421.87 85.30,422.73 84.80,422.49 84.30,424.47 83.80,426.59 83.30,424.73 82.80,427.44 82.30,428.60 81.80,428.94 81.30,430.22 80.80,430.85 80.30,433.36 79.80,432.84 79.30,434.86 78.80,434.83 78.30,438.05 77.80,439.48 77.30,439.18 76.80,441.11 76.30,443.48 75.80,444.04 75.30,444.85 74.80,445.22 74.30,448.94 73.80,451.69 73.30,451.31 72.80,453.64 72.30,455.32 71.80,456.69 71.30,458.72 70.80,460.75 70.30,462.16 69.80,467.27 69.30,470.08 68.80,471.00 68.30,475.19 67.80,476.30 67.30,480.81 66.80,489.86 66.30,493.04 65.80,492.92 65.30,494.23"/>
<polyline fill="none" stroke="#d42a22" stroke-width="1.7" points="65.50,488.91 66.00,479.19 66.50,475.48 67.00,470.97 67.50,468.24 68.00,464.88 68.50,462.91 69.00,459.44 69.50,456.78 70.00,455.17 70.50,453.22 71.00,451.21 71.50,449.84 72.00,449.02 72.50,447.75 73.00,445.86 73.50,444.53 74.00,442.31 74.50,442.49 75.00,439.93 75.50,439.09 76.00,436.99 76.50,436.14 77.00,434.34 77.50,432.20 78.00,431.31 78.50,428.71 79.00,428.52 79.50,425.92 80.00,425.63 80.50,424.82 81.00,423.26 81.50,421.86 82.00,420.56 82.50,419.74 83.00,419.42 83.50,418.34 84.00,416.79 84.50,415.34 85.00,415.37 85.50,413.39 86.00,412.96 86.50,411.97 87.00,411.84 87.50,410.72 88.00,410.00 88.50,409.08 89.00,407.79 89.50,407.61 90.00,407.28 90.50,405.80 91.00,405.41 91.50,404.32 92.00,404.21 92.50,403.37 93.00,402.84 93.50,401.96 94.00,402.00 94.50,400.42 95.00,399.86 95.50,399.17 96.00,399.23 96.50,398.09 97.00,397.56 97.50,397.74 98.00,397.47 98.50,396.70 99.00,394.60 99.50,395.01 100.00,394.50 100.50,394.00 101.00,393.97 101.50,394.67 102.00,393.21 102.50,392.61 103.00,392.95 103.50,392.27 104.00,391.95 104.50,391.20 105.00,391.20 105.50,391.09 106.00,389.59 106.50,389.43 107.00,390.47 107.50,390.05 108.00,389.09 108.50,388.54 109.00,388.67 109.50,387.88 110.00,388.03 110.50,388.75 111.00,387.71 111.50,387.96 112.00,386.99 112.50,387.02 113.00,387.27 113.50,385.65 114.00,385.88 114.50,385.72 115.00,385.68 115.50,386.06 116.00,385.37 116.50,384.03 117.00,384.39 117.50,383.82 118.00,383.56 118.50,384.78 119.00,382.98 119.50,383.37 120.00,382.64 120.50,383.17 121.00,382.66 121.50,382.30 122.00,381.94 122.50,382.29 123.00,381.01 123.50,380.86 124.00,380.41 124.50,381.38 125.00,380.32 125.50,379.70 126.00,379.75 126.50,380.96 127.00,379.41 127.50,379.64 128.00,379.19 128.50,378.70 129.00,378.11 129.50,378.04 130.00,377.78 130.50,376.60 131.00,378.74 131.50,377.66 132.00,377.00 132.50,376.59 133.00,376.04 133.50,376.65 134.00,375.82 134.50,375.90 135.00,374.71 135.50,375.33 136.00,375.88 136.50,374.47 137.00,374.75 137.50,374.10 138.00,374.36 138.50,374.08 139.00,373.30 139.50,372.72 140.00,372.87 140.50,372.48 141.00,371.87 141.50,372.14 142.00,371.85 142.50,370.92 143.00,371.04 143.50,372.28 144.00,370.96 144.50,370.33 145.00,371.27 145.50,369.52 146.00,368.24 146.50,368.26 147.00,368.19 147.50,368.81 148.00,368.91 148.50,367.08 149.00,368.47 149.50,367.04 150.00,367.53 150.50,367.38 151.00,367.11 151.50,366.65 152.00,366.47 152.50,365.56 153.00,366.02 153.50,366.11 154.00,365.83 154.50,366.42 155.00,365.40 155.50,364.97 156.00,365.19 156.50,364.23 157.00,363.22 157.50,362.50 158.00,364.01 158.50,363.41 159.00,363.31 159.50,362.49 160.00,362.59 160.50,363.13 161.00,362.13 161.50,361.18 162.00,361.30 162.50,362.00 163.00,360.55 163.50,359.60 164.00,359.54 164.50,359.82 165.00,360.70 165.50,360.16 166.00,359.55 166.50,359.10 167.00,359.50 167.50,359.30 168.00,358.92 168.50,358.90 169.00,358.47 169.50,359.58 170.00,357.32 170.50,358.39 171.00,357.66 171.50,358.35 172.00,357.71 172.50,357.85 173.00,357.77 173.50,357.44 174.00,357.67 174.50,356.32 175.00,357.34 175.50,356.59 176.00,356.74 176.50,357.17 177.00,356.80 177.50,357.08 178.00,354.81 178.50,355.31 179.00,356.12 179.50,354.92 180.00,355.25 180.50,356.05 181.00,355.49 181.50,354.42 182.00,354.99 182.50,354.94 183.00,354.51 183.50,354.29 184.00,354.27 184.50,353.31 185.00,353.98 185.50,353.30 186.00,353.84 186.50,353.72 187.00,352.92 187.50,353.54 188.00,353.28 188.50,352.94 189.00,353.19 189.50,352.54 190.00,352.42 190.50,352.47 191.00,352.27 191.50,352.74 192.00,350.85 192.50,351.75 193.00,350.77 193.50,351.38 194.00,351.63 194.50,351.37 195.00,351.72 195.50,351.26 196.00,349.60 196.50,350.28 197.00,351.49 197.50,351.36 198.00,350.50 198.50,349.54 199.00,351.28 199.50,349.01 200.00,350.09 200.50,349.79 201.00,349.81 201.50,348.98 202.00,349.25 202.50,349.87 203.00,348.97 203.50,348.41 204.00,348.98 204.50,348.91 205.00,348.69 205.50,348.25 206.00,348.81 206.50,348.36 207.00,347.72 207.50,348.31 208.00,348.08 208.50,348.06 209.00,347.02 209.50,347.38 210.00,347.89 210.50,348.02 211.00,347.62 211.50,347.42 212.00,347.60 212.50,347.63 213.00,347.92 213.50,347.17 214.00,346.55 214.50,346.97 215.00,345.65 215.50,346.55 216.00,346.20 216.50,346.31 217.00,346.47 217.50,346.15 218.00,345.30 218.50,345.75 219.00,345.43 219.50,345.72 220.00,345.81 220.50,345.05 221.00,345.81 221.50,346.00 222.00,345.12 222.50,345.52 223.00,344.32 223.50,344.70 224.00,345.36 224.50,343.90 225.00,344.44 225.50,344.16 226.00,345.09 226.50,345.00 227.00,344.02 227.50,344.31"/>
<polyline fill="none" stroke="#d8302a" stroke-width="1.3" points="56.80,487.35 57.15,485.05 57.50,487.21 57.85,489.88 58.20,479.62 58.55,494.07 58.90,485.08 59.25,484.50 59.60,482.60 59.95,490.91 60.30,489.83 60.65,492.23 61.00,490.75 61.35,488.10 61.70,488.38 62.05,490.93 62.40,483.31 62.75,486.81 63.10,488.60 63.45,485.10 63.80,490.03 64.15,485.52 64.50,489.83 64.85,487.59 65.20,488.94 65.55,480.63"/>
<polyline fill="none" stroke="#e0504a" stroke-width="1.0" points="56.80,484.99 57.15,492.71 57.50,488.62 57.85,487.72 58.20,491.37 58.55,490.63 58.90,487.84 59.25,485.75 59.60,494.86 59.95,490.42 60.30,482.50 60.65,490.94 61.00,490.69 61.35,490.85 61.70,486.59 62.05,493.15 62.40,485.38 62.75,492.24 63.10,489.02 63.45,493.94 63.80,486.64 64.15,490.44 64.50,490.96 64.85,486.87 65.20,488.04 65.55,486.55"/>
<polyline fill="none" stroke="#5060b0" stroke-width="1.3" points="57,495.3 59,494.6 61,495.4 63,494.8 65,495.2"/>
<polygon fill="#3a5bb6" opacity="1.0" points="340.30,478.64 340.80,470.57 341.30,469.35 341.80,462.73 342.30,461.73 342.80,460.03 343.30,457.82 343.80,456.08 344.30,453.32 344.80,450.54 345.30,449.42 345.80,448.31 346.30,449.75 346.80,448.84 347.30,444.98 347.80,444.84 348.30,442.86 348.80,443.10 349.30,444.62 349.80,441.62 350.30,441.59 350.80,441.32 351.30,441.65 351.80,440.11 352.30,439.50 352.80,437.67 353.30,437.62 353.80,435.32 354.30,436.81 354.80,434.69 355.30,433.77 355.80,434.23 356.30,433.63 356.80,430.53 357.30,430.11 357.80,429.88 358.30,428.42 358.80,428.60 359.30,426.82 359.80,426.81 360.30,425.17 360.80,423.54 361.30,424.05 361.80,422.04 362.30,423.11 362.80,421.56 363.30,421.83 363.80,419.76 364.30,418.78 364.80,418.25 365.30,417.51 365.80,415.08 366.30,414.18 366.80,415.97 367.30,412.70 367.80,414.70 368.30,412.81 368.80,411.36 369.30,410.20 369.80,410.51 370.30,409.39 370.80,407.86 371.30,407.97 371.80,407.28 372.30,405.36 372.80,404.49 373.30,404.90 373.80,404.24 374.30,403.72 374.80,403.60 375.30,403.11 375.80,403.11 376.30,400.90 376.80,401.12 377.30,400.68 377.80,399.85 378.30,399.03 378.80,397.67 379.30,398.89 379.80,398.56 380.30,397.50 380.80,398.10 381.30,395.54 381.80,395.45 382.30,395.25 382.80,395.64 383.30,394.36 383.80,393.63 384.30,393.76 384.80,394.13 385.30,395.12 385.80,392.08 386.30,392.97 386.80,393.06 387.30,390.92 387.80,391.06 388.30,392.41 388.80,390.68 389.30,390.44 389.80,388.77 390.30,391.25 390.80,389.33 391.30,388.67 391.80,386.71 392.30,388.81 392.80,390.27 393.30,388.32 393.80,386.28 394.30,385.34 394.80,384.03 395.30,384.98 395.80,385.80 396.30,383.73 396.80,384.25 397.30,384.06 397.80,383.47 398.30,381.84 398.80,383.65 399.30,383.40 399.80,382.08 400.30,381.72 400.80,382.11 401.30,381.81 401.80,380.20 402.30,378.89 402.80,379.16 403.30,378.84 403.80,377.93 404.30,380.82 404.80,379.99 405.30,378.84 405.80,378.99 406.30,378.45 406.80,377.05 407.30,378.07 407.80,376.90 408.30,378.16 408.80,376.76 409.30,374.11 409.80,375.67 410.30,374.48 410.80,373.77 411.30,374.64 411.80,373.24 412.30,373.27 412.80,372.46 413.30,373.46 413.80,373.94 414.30,373.19 414.80,372.39 415.30,370.97 415.80,371.38 416.30,371.24 416.80,370.69 417.30,369.09 417.80,370.43 418.30,368.02 418.80,370.43 419.30,369.47 419.80,367.69 420.30,367.71 420.80,368.76 421.30,367.69 421.80,367.97 422.30,366.09 422.80,366.08 423.30,367.02 423.80,365.60 424.30,366.05 424.80,365.45 425.30,365.00 425.80,365.33 426.30,364.03 426.80,363.70 427.30,363.44 427.80,362.46 428.30,363.55 428.80,364.47 429.30,363.19 429.80,362.22 430.30,362.12 430.80,361.28 431.30,360.78 431.80,361.44 432.30,361.16 432.80,361.78 433.30,359.50 433.80,360.54 434.30,361.11 434.80,360.90 435.30,359.96 435.80,357.75 436.30,358.30 436.80,360.54 437.30,358.74 437.80,358.14 438.30,357.56 438.80,357.64 439.30,358.42 439.80,357.17 440.30,357.94 440.80,359.43 441.30,357.71 441.80,357.50 442.30,355.68 442.80,355.40 443.30,357.32 443.80,355.92 444.30,355.83 444.80,357.18 445.30,357.63 445.80,355.50 446.30,355.10 446.80,355.67 447.30,357.62 447.80,354.78 448.30,355.17 448.80,355.32 449.30,354.60 449.80,355.25 450.30,353.41 450.80,353.80 451.30,354.22 451.80,353.23 452.30,353.40 452.80,354.74 453.30,353.22 453.80,353.39 454.30,354.53 454.80,353.30 455.30,352.08 455.80,352.99 456.30,350.83 456.80,350.40 457.30,352.27 457.80,351.27 458.30,349.70 458.80,351.89 459.30,352.33 459.80,351.72 460.30,352.54 460.80,352.39 461.30,350.70 461.80,351.20 462.30,350.41 462.80,350.04 463.30,351.17 463.80,350.47 464.30,350.42 464.80,350.70 465.30,350.74 465.80,349.46 466.30,349.79 466.80,349.20 467.30,348.41 467.80,348.27 468.30,350.27 468.80,349.89 469.30,349.17 469.80,348.67 470.30,347.73 470.80,349.51 471.30,348.86 471.80,348.05 472.30,346.94 472.80,346.67 473.30,348.93 473.80,348.01 474.30,348.48 474.80,346.70 475.30,346.98 475.80,347.66 476.30,347.79 476.80,346.75 477.30,345.95 477.80,347.57 478.30,347.00 478.80,346.44 479.30,346.42 479.80,345.97 480.30,347.19 480.80,346.66 481.30,348.05 481.80,345.77 482.30,344.64 482.80,347.65 483.30,346.10 483.80,344.45 484.30,345.37 484.80,347.01 485.30,343.83 485.80,346.31 486.30,343.39 486.80,345.23 487.30,345.24 487.80,344.39 488.30,344.33 488.80,343.59 489.30,343.57 489.80,344.11 490.30,342.53 490.80,343.02 491.30,343.35 491.80,343.38 492.30,343.50 492.80,343.37 493.30,342.52 493.80,342.60 494.30,342.92 494.80,341.84 495.30,343.01 495.80,342.20 496.30,341.67 496.80,343.54 497.30,342.58 497.80,340.54 498.30,343.06 498.80,340.85 499.30,342.96 499.80,341.39 500.30,342.75 500.80,342.20 501.30,341.86 501.80,341.93 502.30,340.27 502.80,340.35 503.30,340.21 503.70,358.99 503.20,360.50 502.70,359.95 502.20,359.31 501.70,358.00 501.20,359.81 500.70,359.84 500.20,359.36 499.70,360.05 499.20,360.19 498.70,359.20 498.20,360.14 497.70,360.01 497.20,360.06 496.70,359.49 496.20,359.46 495.70,360.13 495.20,361.54 494.70,362.53 494.20,359.93 493.70,359.34 493.20,360.15 492.70,359.76 492.20,360.28 491.70,361.20 491.20,360.00 490.70,361.63 490.20,361.92 489.70,362.76 489.20,363.17 488.70,362.46 488.20,363.85 487.70,361.20 487.20,362.09 486.70,362.10 486.20,362.49 485.70,363.20 485.20,361.97 484.70,364.13 484.20,363.82 483.70,363.02 483.20,363.27 482.70,361.96 482.20,360.58 481.70,363.10 481.20,363.64 480.70,363.68 480.20,362.49 479.70,363.27 479.20,365.61 478.70,364.72 478.20,364.74 477.70,363.95 477.20,365.14 476.70,365.82 476.20,365.43 475.70,364.41 475.20,365.24 474.70,364.22 474.20,364.94 473.70,365.98 473.20,365.02 472.70,365.48 472.20,367.31 471.70,365.88 471.20,366.99 470.70,366.10 470.20,365.45 469.70,366.77 469.20,366.60 468.70,365.15 468.20,366.14 467.70,367.11 467.20,369.19 466.70,367.35 466.20,368.09 465.70,368.94 465.20,368.80 464.70,368.37 464.20,370.60 463.70,370.43 463.20,366.88 462.70,370.45 462.20,370.23 461.70,370.85 461.20,370.16 460.70,371.08 460.20,372.35 459.70,372.32 459.20,372.58 458.70,372.02 458.20,372.07 457.70,372.26 457.20,370.39 456.70,373.92 456.20,372.07 455.70,372.33 455.20,372.29 454.70,372.80 454.20,370.39 453.70,372.89 453.20,371.57 452.70,372.01 452.20,371.31 451.70,371.61 451.20,374.07 450.70,373.16 450.20,373.71 449.70,373.81 449.20,373.00 448.70,373.62 448.20,373.24 447.70,374.36 447.20,372.64 446.70,374.63 446.20,376.10 445.70,376.58 445.20,376.70 444.70,376.25 444.20,374.95 443.70,377.04 443.20,376.85 442.70,376.80 442.20,375.54 441.70,377.34 441.20,378.57 440.70,378.13 440.20,377.38 439.70,378.38 439.20,378.09 438.70,378.51 438.20,379.44 437.70,379.21 437.20,379.22 436.70,379.82 436.20,378.91 435.70,379.03 435.20,380.81 434.70,380.04 434.20,381.50 433.70,379.42 433.20,382.75 432.70,381.77 432.20,383.84 431.70,380.03 431.20,381.12 430.70,384.49 430.20,383.54 429.70,383.98 429.20,384.09 428.70,384.41 428.20,385.07 427.70,383.82 427.20,384.94 426.70,386.68 426.20,385.85 425.70,385.34 425.20,386.33 424.70,387.56 424.20,386.60 423.70,386.91 423.20,387.85 422.70,388.49 422.20,389.39 421.70,388.08 421.20,388.84 420.70,389.81 420.20,387.16 419.70,389.48 419.20,390.08 418.70,389.82 418.20,389.34 417.70,391.06 417.20,392.00 416.70,390.96 416.20,390.86 415.70,391.41 415.20,393.47 414.70,393.45 414.20,392.55 413.70,391.71 413.20,391.83 412.70,393.07 412.20,393.37 411.70,394.25 411.20,393.17 410.70,394.47 410.20,395.43 409.70,393.53 409.20,397.80 408.70,396.38 408.20,396.63 407.70,395.11 407.20,395.68 406.70,398.01 406.20,398.18 405.70,395.17 405.20,399.05 404.70,398.93 404.20,399.15 403.70,397.74 403.20,399.43 402.70,398.91 402.20,400.42 401.70,402.06 401.20,401.23 400.70,401.99 400.20,401.06 399.70,400.77 399.20,402.25 398.70,403.75 398.20,404.68 397.70,403.67 397.20,404.53 396.70,404.43 396.20,403.68 395.70,406.05 395.20,406.89 394.70,406.71 394.20,407.52 393.70,406.47 393.20,408.88 392.70,410.76 392.20,409.91 391.70,411.08 391.20,411.49 390.70,410.85 390.20,412.38 389.70,411.92 389.20,416.22 388.70,414.08 388.20,413.35 387.70,413.48 387.20,417.06 386.70,416.75 386.20,417.10 385.70,415.91 385.20,417.26 384.70,417.17 384.20,420.03 383.70,418.97 383.20,421.98 382.70,421.14 382.20,420.86 381.70,423.07 381.20,420.20 380.70,422.02 380.20,423.00 379.70,425.02 379.20,425.57 378.70,425.39 378.20,423.80 377.70,425.58 377.20,425.53 376.70,428.40 376.20,427.23 375.70,428.76 375.20,430.53 374.70,429.11 374.20,430.38 373.70,429.79 373.20,430.71 372.70,431.19 372.20,431.65 371.70,432.18 371.20,432.20 370.70,434.93 370.20,432.89 369.70,434.26 369.20,434.18 368.70,432.69 368.20,436.38 367.70,436.10 367.20,434.96 366.70,436.06 366.20,435.63 365.70,437.98 365.20,439.70 364.70,439.80 364.20,437.73 363.70,437.74 363.20,440.42 362.70,442.00 362.20,440.78 361.70,442.20 361.20,440.18 360.70,441.88 360.20,442.86 359.70,442.42 359.20,443.03 358.70,444.35 358.20,443.45 357.70,443.48 357.20,445.61 356.70,445.49 356.20,444.62 355.70,446.41 355.20,445.76 354.70,447.29 354.20,446.95 353.70,446.95 353.20,446.70 352.70,447.91 352.20,447.98 351.70,450.33 351.20,448.90 350.70,448.20 350.20,452.30 349.70,448.95 349.20,453.47 348.70,451.84 348.20,455.11 347.70,454.71 347.20,456.76 346.70,457.71 346.20,459.18 345.70,461.55 345.20,462.26 344.70,465.36 344.20,466.15 343.70,469.52 343.20,474.42 342.70,483.81 342.20,489.88 341.70,490.22 341.20,491.52 340.70,491.39"/>
<polygon fill="#e8857e" opacity="1.0" points="340.30,481.68 340.80,474.52 341.30,470.13 341.80,466.16 342.30,460.92 342.80,462.09 343.30,456.82 343.80,454.49 344.30,454.68 344.80,453.56 345.30,450.93 345.80,449.07 346.30,447.08 346.80,447.84 347.30,446.34 347.80,448.23 348.30,448.28 348.80,448.89 349.30,447.86 349.80,446.61 350.30,445.66 350.80,447.21 351.30,444.42 351.80,445.28 352.30,445.68 352.80,445.57 353.30,441.95 353.80,443.85 354.30,444.78 354.80,444.43 355.30,440.59 355.80,442.89 356.30,440.07 356.80,439.02 357.30,442.68 357.80,437.40 358.30,438.38 358.80,438.54 359.30,437.01 359.80,434.85 360.30,434.29 360.80,433.51 361.30,434.20 361.80,431.13 362.30,430.21 362.80,429.17 363.30,429.54 363.80,427.84 364.30,426.98 364.80,428.03 365.30,427.20 365.80,426.93 366.30,426.34 366.80,425.33 367.30,427.77 367.80,425.47 368.30,423.85 368.80,426.32 369.30,424.88 369.80,420.61 370.30,423.15 370.80,421.81 371.30,420.17 371.80,420.58 372.30,420.43 372.80,419.42 373.30,418.72 373.80,418.30 374.30,416.79 374.80,414.49 375.30,415.40 375.80,413.30 376.30,413.78 376.80,413.10 377.30,412.85 377.80,413.37 378.30,411.99 378.80,411.62 379.30,412.83 379.80,410.14 380.30,409.91 380.80,409.74 381.30,410.45 381.80,412.55 382.30,407.23 382.80,408.68 383.30,410.80 383.80,406.98 384.30,408.15 384.80,406.01 385.30,406.45 385.80,404.46 386.30,405.01 386.80,404.42 387.30,404.04 387.80,402.20 388.30,404.71 388.80,401.23 389.30,401.32 389.80,402.35 390.30,401.24 390.80,401.33 391.30,400.29 391.80,398.81 392.30,400.33 392.80,398.21 393.30,397.56 393.80,397.52 394.30,396.00 394.80,397.57 395.30,396.26 395.80,393.72 396.30,396.28 396.80,396.10 397.30,395.54 397.80,394.47 398.30,395.54 398.80,394.72 399.30,396.17 399.80,394.96 400.30,394.56 400.80,394.37 401.30,393.15 401.80,391.43 402.30,392.36 402.80,393.14 403.30,390.91 403.80,390.64 404.30,392.18 404.80,389.97 405.30,391.08 405.80,390.20 406.30,389.98 406.80,387.76 407.30,389.39 407.80,388.43 408.30,387.48 408.80,386.11 409.30,385.58 409.80,387.87 410.30,384.87 410.80,385.57 411.30,384.14 411.80,383.94 412.30,385.48 412.80,384.43 413.30,384.46 413.80,383.29 414.30,381.38 414.80,382.92 415.30,383.41 415.80,379.20 416.30,383.05 416.80,381.48 417.30,381.12 417.80,382.25 418.30,379.40 418.80,378.69 419.30,379.69 419.80,379.15 420.30,379.03 420.80,380.57 421.30,377.79 421.80,379.20 422.30,378.49 422.80,376.49 423.30,375.49 423.80,377.27 424.30,374.50 424.80,373.38 425.30,374.94 425.80,374.87 426.30,374.18 426.80,374.56 427.30,374.75 427.80,372.61 428.30,372.18 428.80,373.30 429.30,372.85 429.80,372.78 430.30,372.55 430.80,372.55 431.30,372.88 431.80,369.68 432.30,370.87 432.80,370.07 433.30,367.71 433.80,370.14 434.30,368.59 434.80,370.62 435.30,369.48 435.80,367.63 436.30,368.52 436.80,369.66 437.30,369.54 437.80,367.07 438.30,368.35 438.80,366.20 439.30,366.47 439.80,366.97 440.30,366.47 440.80,365.30 441.30,365.96 441.80,366.93 442.30,365.22 442.80,365.85 443.30,365.52 443.80,364.38 444.30,364.49 444.80,363.50 445.30,364.75 445.80,364.90 446.30,364.59 446.80,363.57 447.30,364.81 447.80,364.12 448.30,364.53 448.80,364.29 449.30,363.43 449.80,360.21 450.30,363.36 450.80,362.45 451.30,362.49 451.80,362.66 452.30,362.28 452.80,359.86 453.30,362.33 453.80,360.00 454.30,360.98 454.80,362.63 455.30,362.23 455.80,361.88 456.30,362.47 456.80,359.72 457.30,360.45 457.80,360.18 458.30,361.88 458.80,360.00 459.30,361.05 459.80,357.44 460.30,360.27 460.80,359.70 461.30,359.43 461.80,360.34 462.30,360.12 462.80,360.00 463.30,358.42 463.80,360.14 464.30,359.36 464.80,358.66 465.30,359.40 465.80,360.40 466.30,360.07 466.80,359.05 467.30,359.57 467.80,357.19 468.30,358.18 468.80,358.10 469.30,359.13 469.80,357.21 470.30,358.12 470.80,358.69 471.30,358.20 471.80,354.55 472.30,357.91 472.80,358.09 473.30,355.61 473.80,355.96 474.30,357.03 474.80,354.96 475.30,358.14 475.80,356.86 476.30,358.09 476.80,354.45 477.30,355.87 477.80,352.77 478.30,355.12 478.80,354.98 479.30,356.72 479.80,356.66 480.30,355.73 480.80,353.98 481.30,356.13 481.80,357.57 482.30,353.68 482.80,353.49 483.30,355.50 483.80,353.80 484.30,352.88 484.80,352.70 485.30,355.77 485.80,353.75 486.30,354.61 486.80,352.47 487.30,353.36 487.80,354.76 488.30,353.11 488.80,352.42 489.30,354.80 489.80,354.46 490.30,353.55 490.80,353.00 491.30,353.19 491.80,354.55 492.30,354.12 492.80,352.22 493.30,351.57 493.80,352.97 494.30,351.62 494.80,349.49 495.30,351.81 495.80,351.96 496.30,352.15 496.80,350.65 497.30,350.81 497.80,350.67 498.30,351.28 498.80,350.24 499.30,350.11 499.80,350.65 500.30,349.00 500.80,352.07 501.30,349.29 501.80,350.15 502.30,348.90 502.80,347.54 503.30,349.59 503.70,362.22 503.20,362.48 502.70,364.20 502.20,364.45 501.70,362.91 501.20,363.55 500.70,364.98 500.20,363.57 499.70,361.25 499.20,362.14 498.70,362.61 498.20,363.73 497.70,362.69 497.20,365.08 496.70,362.97 496.20,365.47 495.70,362.94 495.20,365.40 494.70,364.14 494.20,365.69 493.70,366.43 493.20,366.28 492.70,365.56 492.20,363.55 491.70,363.58 491.20,360.89 490.70,366.50 490.20,366.37 489.70,366.20 489.20,363.76 488.70,368.48 488.20,364.54 487.70,366.48 487.20,363.66 486.70,364.97 486.20,367.28 485.70,367.17 485.20,364.78 484.70,366.09 484.20,367.65 483.70,364.26 483.20,367.48 482.70,364.85 482.20,367.57 481.70,366.64 481.20,368.25 480.70,366.59 480.20,366.91 479.70,367.03 479.20,366.44 478.70,367.38 478.20,366.63 477.70,367.30 477.20,368.91 476.70,367.85 476.20,369.65 475.70,369.35 475.20,369.64 474.70,367.43 474.20,369.43 473.70,370.80 473.20,370.32 472.70,370.87 472.20,371.38 471.70,367.94 471.20,370.60 470.70,370.75 470.20,370.04 469.70,368.90 469.20,370.82 468.70,370.64 468.20,373.36 467.70,372.78 467.20,370.93 466.70,370.35 466.20,370.80 465.70,371.94 465.20,371.34 464.70,374.76 464.20,371.18 463.70,372.69 463.20,373.17 462.70,373.69 462.20,372.28 461.70,373.31 461.20,373.99 460.70,374.35 460.20,373.45 459.70,373.97 459.20,374.77 458.70,376.97 458.20,373.43 457.70,375.87 457.20,377.10 456.70,373.73 456.20,377.29 455.70,377.41 455.20,375.98 454.70,377.22 454.20,378.01 453.70,376.24 453.20,376.86 452.70,375.48 452.20,376.10 451.70,377.17 451.20,377.15 450.70,379.35 450.20,377.33 449.70,376.33 449.20,378.99 448.70,379.21 448.20,378.76 447.70,378.30 447.20,377.70 446.70,378.04 446.20,380.81 445.70,380.11 445.20,379.49 444.70,380.05 444.20,379.34 443.70,378.84 443.20,379.58 442.70,380.27 442.20,378.59 441.70,379.03 441.20,378.90 440.70,380.63 440.20,382.11 439.70,380.01 439.20,380.48 438.70,380.17 438.20,381.78 437.70,381.18 437.20,381.67 436.70,381.84 436.20,386.12 435.70,383.62 435.20,383.25 434.70,383.80 434.20,385.68 433.70,386.11 433.20,385.58 432.70,383.23 432.20,387.06 431.70,387.46 431.20,387.42 430.70,387.36 430.20,387.18 429.70,388.81 429.20,387.31 428.70,389.20 428.20,387.67 427.70,388.07 427.20,388.29 426.70,388.44 426.20,388.80 425.70,390.56 425.20,391.80 424.70,389.39 424.20,389.27 423.70,392.28 423.20,390.67 422.70,391.68 422.20,391.81 421.70,392.99 421.20,391.14 420.70,393.83 420.20,393.70 419.70,390.42 419.20,393.13 418.70,393.15 418.20,394.34 417.70,394.09 417.20,393.56 416.70,394.32 416.20,395.44 415.70,395.36 415.20,395.42 414.70,398.53 414.20,396.81 413.70,395.15 413.20,396.91 412.70,397.46 412.20,396.19 411.70,397.80 411.20,396.97 410.70,395.63 410.20,398.99 409.70,399.63 409.20,399.92 408.70,399.31 408.20,399.08 407.70,400.36 407.20,400.88 406.70,401.76 406.20,402.56 405.70,402.23 405.20,400.89 404.70,401.82 404.20,400.53 403.70,403.38 403.20,403.54 402.70,404.61 402.20,404.12 401.70,405.77 401.20,403.45 400.70,405.05 400.20,404.76 399.70,405.21 399.20,403.81 398.70,405.50 398.20,404.52 397.70,407.00 397.20,407.10 396.70,408.64 396.20,406.88 395.70,408.99 395.20,409.88 394.70,408.02 394.20,413.26 393.70,412.46 393.20,411.53 392.70,415.23 392.20,415.15 391.70,411.16 391.20,414.30 390.70,414.47 390.20,415.83 389.70,415.21 389.20,416.60 388.70,417.57 388.20,415.08 387.70,418.75 387.20,420.84 386.70,419.89 386.20,421.67 385.70,422.76 385.20,421.78 384.70,422.46 384.20,423.04 383.70,422.62 383.20,426.39 382.70,424.78 382.20,425.48 381.70,426.51 381.20,427.70 380.70,424.88 380.20,425.83 379.70,427.77 379.20,428.77 378.70,427.25 378.20,427.59 377.70,430.67 377.20,431.14 376.70,430.45 376.20,430.96 375.70,431.05 375.20,430.91 374.70,431.76 374.20,433.50 373.70,433.56 373.20,435.42 372.70,433.18 372.20,433.21 371.70,436.38 371.20,435.06 370.70,436.27 370.20,437.15 369.70,436.08 369.20,436.22 368.70,438.83 368.20,435.73 367.70,440.17 367.20,437.77 366.70,441.30 366.20,441.17 365.70,441.53 365.20,442.28 364.70,442.31 364.20,440.95 363.70,444.00 363.20,443.60 362.70,444.43 362.20,444.14 361.70,444.41 361.20,446.24 360.70,446.69 360.20,446.27 359.70,444.98 359.20,445.72 358.70,446.05 358.20,448.99 357.70,448.67 357.20,448.55 356.70,448.69 356.20,448.36 355.70,450.58 355.20,448.72 354.70,449.28 354.20,451.62 353.70,451.65 353.20,451.05 352.70,449.87 352.20,450.18 351.70,453.12 351.20,453.07 350.70,455.00 350.20,453.36 349.70,454.59 349.20,454.39 348.70,458.37 348.20,455.41 347.70,459.33 347.20,461.84 346.70,460.25 346.20,461.28 345.70,463.53 345.20,464.90 344.70,469.01 344.20,470.83 343.70,472.87 343.20,478.30 342.70,489.42 342.20,492.07 341.70,494.29 341.20,498.41 340.70,495.16"/>
<polygon fill="#e0291f" opacity="1.0" points="340.30,480.95 340.80,474.36 341.30,470.12 341.80,469.23 342.30,463.72 342.80,463.79 343.30,458.54 343.80,456.89 344.30,454.92 344.80,453.39 345.30,452.70 345.80,452.56 346.30,451.47 346.80,448.90 347.30,450.33 347.80,449.42 348.30,449.46 348.80,448.85 349.30,448.29 349.80,447.41 350.30,447.69 350.80,447.49 351.30,447.51 351.80,446.57 352.30,447.76 352.80,446.10 353.30,444.56 353.80,446.32 354.30,445.24 354.80,441.97 355.30,445.29 355.80,445.32 356.30,443.43 356.80,440.42 357.30,439.36 357.80,441.74 358.30,439.06 358.80,438.73 359.30,438.45 359.80,438.97 360.30,435.21 360.80,436.38 361.30,434.54 361.80,434.08 362.30,431.64 362.80,431.70 363.30,433.40 363.80,431.88 364.30,429.96 364.80,431.71 365.30,430.15 365.80,428.90 366.30,430.12 366.80,429.09 367.30,428.89 367.80,426.22 368.30,426.39 368.80,424.21 369.30,424.35 369.80,423.22 370.30,423.22 370.80,421.75 371.30,422.00 371.80,422.31 372.30,419.61 372.80,419.32 373.30,417.58 373.80,419.57 374.30,419.61 374.80,420.11 375.30,422.16 375.80,419.26 376.30,417.13 376.80,418.16 377.30,419.54 377.80,415.99 378.30,416.84 378.80,416.24 379.30,415.93 379.80,415.24 380.30,414.23 380.80,416.04 381.30,414.13 381.80,414.00 382.30,411.93 382.80,413.68 383.30,410.57 383.80,411.15 384.30,409.68 384.80,411.54 385.30,409.53 385.80,409.45 386.30,410.79 386.80,409.01 387.30,408.67 387.80,408.65 388.30,407.92 388.80,408.08 389.30,406.62 389.80,405.35 390.30,406.01 390.80,406.36 391.30,403.32 391.80,404.31 392.30,403.49 392.80,403.33 393.30,403.23 393.80,401.68 394.30,402.41 394.80,401.45 395.30,402.53 395.80,402.34 396.30,400.70 396.80,398.02 397.30,399.37 397.80,397.24 398.30,398.35 398.80,397.98 399.30,398.65 399.80,397.72 400.30,395.54 400.80,395.79 401.30,397.24 401.80,396.73 402.30,394.57 402.80,396.06 403.30,394.28 403.80,395.75 404.30,393.87 404.80,392.62 405.30,392.96 405.80,393.20 406.30,392.96 406.80,392.83 407.30,392.42 407.80,390.87 408.30,390.54 408.80,390.94 409.30,392.25 409.80,391.16 410.30,389.99 410.80,389.88 411.30,390.92 411.80,388.54 412.30,386.24 412.80,389.70 413.30,388.04 413.80,386.11 414.30,387.78 414.80,387.40 415.30,386.44 415.80,385.67 416.30,386.27 416.80,384.50 417.30,387.01 417.80,384.07 418.30,383.98 418.80,384.13 419.30,383.20 419.80,383.17 420.30,381.51 420.80,382.92 421.30,382.13 421.80,383.10 422.30,382.46 422.80,381.21 423.30,382.15 423.80,381.08 424.30,381.19 424.80,380.00 425.30,379.02 425.80,377.84 426.30,380.37 426.80,378.28 427.30,376.86 427.80,376.00 428.30,375.63 428.80,378.14 429.30,376.88 429.80,375.47 430.30,374.77 430.80,375.11 431.30,374.81 431.80,374.52 432.30,375.22 432.80,373.99 433.30,373.04 433.80,373.91 434.30,372.11 434.80,375.84 435.30,373.06 435.80,370.76 436.30,371.33 436.80,370.51 437.30,371.56 437.80,372.65 438.30,371.74 438.80,369.49 439.30,372.63 439.80,371.54 440.30,372.09 440.80,370.71 441.30,370.41 441.80,369.21 442.30,370.43 442.80,367.70 443.30,368.58 443.80,369.52 444.30,369.86 444.80,370.19 445.30,368.39 445.80,366.36 446.30,368.34 446.80,369.04 447.30,367.90 447.80,368.20 448.30,368.42 448.80,369.26 449.30,367.26 449.80,365.56 450.30,365.67 450.80,365.76 451.30,366.39 451.80,365.98 452.30,365.29 452.80,366.21 453.30,365.73 453.80,366.27 454.30,364.60 454.80,366.52 455.30,364.78 455.80,364.47 456.30,364.35 456.80,364.34 457.30,365.39 457.80,365.36 458.30,365.07 458.80,364.91 459.30,365.53 459.80,364.72 460.30,364.79 460.80,364.97 461.30,363.53 461.80,364.53 462.30,363.40 462.80,362.05 463.30,361.71 463.80,363.26 464.30,362.13 464.80,362.78 465.30,360.51 465.80,361.14 466.30,361.54 466.80,362.70 467.30,362.67 467.80,361.75 468.30,362.20 468.80,362.30 469.30,361.23 469.80,363.05 470.30,363.69 470.80,362.58 471.30,362.59 471.80,361.39 472.30,362.05 472.80,361.25 473.30,362.96 473.80,359.32 474.30,360.27 474.80,361.41 475.30,360.09 475.80,359.04 476.30,359.30 476.80,360.11 477.30,359.27 477.80,358.87 478.30,360.84 478.80,360.95 479.30,359.97 479.80,358.25 480.30,357.63 480.80,358.85 481.30,357.35 481.80,357.73 482.30,358.68 482.80,359.23 483.30,359.00 483.80,358.15 484.30,356.69 484.80,357.13 485.30,359.16 485.80,358.96 486.30,356.79 486.80,357.28 487.30,358.31 487.80,356.55 488.30,355.73 488.80,356.18 489.30,356.76 489.80,355.40 490.30,357.01 490.80,357.09 491.30,357.31 491.80,354.35 492.30,354.00 492.80,356.06 493.30,355.30 493.80,355.32 494.30,354.71 494.80,354.34 495.30,354.73 495.80,355.39 496.30,355.70 496.80,356.09 497.30,357.58 497.80,354.93 498.30,355.55 498.80,354.57 499.30,354.59 499.80,355.40 500.30,354.76 500.80,353.72 501.30,353.85 501.80,354.80 502.30,354.55 502.80,353.11 503.30,353.33 503.70,360.83 503.20,360.41 502.70,361.38 502.20,360.80 501.70,363.31 501.20,360.37 500.70,360.21 500.20,362.64 499.70,360.99 499.20,360.35 498.70,361.65 498.20,358.97 497.70,361.83 497.20,361.48 496.70,361.82 496.20,360.83 495.70,363.05 495.20,362.14 494.70,361.90 494.20,362.38 493.70,361.27 493.20,362.08 492.70,360.81 492.20,361.31 491.70,362.81 491.20,362.74 490.70,363.47 490.20,362.17 489.70,362.84 489.20,362.37 488.70,363.43 488.20,364.07 487.70,364.47 487.20,364.09 486.70,362.84 486.20,363.97 485.70,362.84 485.20,362.08 484.70,364.29 484.20,364.33 483.70,365.11 483.20,365.32 482.70,363.39 482.20,363.84 481.70,364.87 481.20,365.08 480.70,365.55 480.20,363.96 479.70,365.15 479.20,366.18 478.70,367.56 478.20,364.55 477.70,367.56 477.20,365.79 476.70,364.77 476.20,367.68 475.70,365.42 475.20,365.46 474.70,367.48 474.20,367.95 473.70,367.13 473.20,366.49 472.70,365.89 472.20,367.65 471.70,365.37 471.20,366.43 470.70,369.12 470.20,368.86 469.70,369.64 469.20,369.02 468.70,367.65 468.20,369.46 467.70,367.37 467.20,370.07 466.70,370.93 466.20,368.76 465.70,370.99 465.20,370.19 464.70,370.19 464.20,368.58 463.70,370.59 463.20,371.81 462.70,369.42 462.20,370.85 461.70,370.82 461.20,370.08 460.70,372.94 460.20,372.10 459.70,372.30 459.20,373.42 458.70,371.87 458.20,376.05 457.70,372.51 457.20,371.97 456.70,373.94 456.20,373.86 455.70,372.69 455.20,372.92 454.70,374.82 454.20,374.45 453.70,374.74 453.20,375.36 452.70,374.05 452.20,376.09 451.70,375.02 451.20,375.88 450.70,374.41 450.20,376.25 449.70,375.95 449.20,378.31 448.70,375.86 448.20,377.71 447.70,377.00 447.20,378.11 446.70,376.96 446.20,377.38 445.70,374.87 445.20,376.00 444.70,378.51 444.20,378.08 443.70,378.62 443.20,377.79 442.70,379.04 442.20,378.10 441.70,378.61 441.20,380.10 440.70,380.18 440.20,378.89 439.70,379.61 439.20,380.03 438.70,379.91 438.20,380.21 437.70,379.64 437.20,381.43 436.70,380.11 436.20,380.48 435.70,383.01 435.20,383.87 434.70,384.19 434.20,383.01 433.70,382.43 433.20,384.02 432.70,385.14 432.20,384.01 431.70,383.80 431.20,382.84 430.70,383.12 430.20,386.81 429.70,383.92 429.20,385.01 428.70,385.66 428.20,386.49 427.70,385.24 427.20,387.38 426.70,387.67 426.20,387.45 425.70,387.04 425.20,387.57 424.70,386.30 424.20,389.12 423.70,388.26 423.20,387.69 422.70,389.30 422.20,390.11 421.70,390.25 421.20,390.80 420.70,391.62 420.20,390.21 419.70,391.21 419.20,391.55 418.70,390.13 418.20,392.95 417.70,391.82 417.20,392.68 416.70,393.01 416.20,392.19 415.70,394.11 415.20,394.55 414.70,394.04 414.20,391.27 413.70,395.81 413.20,394.60 412.70,394.40 412.20,394.76 411.70,394.56 411.20,395.57 410.70,396.86 410.20,395.45 409.70,397.07 409.20,396.56 408.70,397.20 408.20,397.38 407.70,398.35 407.20,399.35 406.70,398.63 406.20,399.83 405.70,400.72 405.20,398.10 404.70,400.63 404.20,399.87 403.70,400.30 403.20,401.79 402.70,400.92 402.20,400.88 401.70,403.13 401.20,403.29 400.70,403.04 400.20,405.84 399.70,402.46 399.20,402.27 398.70,404.15 398.20,403.73 397.70,405.76 397.20,405.34 396.70,405.88 396.20,407.06 395.70,406.78 395.20,406.28 394.70,408.05 394.20,410.05 393.70,410.15 393.20,411.41 392.70,412.71 392.20,412.46 391.70,412.08 391.20,411.95 390.70,413.72 390.20,415.43 389.70,415.81 389.20,415.89 388.70,414.73 388.20,416.67 387.70,417.37 387.20,418.45 386.70,416.53 386.20,417.66 385.70,419.06 385.20,419.60 384.70,419.43 384.20,421.09 383.70,420.86 383.20,422.82 382.70,421.79 382.20,423.03 381.70,421.30 381.20,424.15 380.70,423.84 380.20,425.76 379.70,425.44 379.20,427.38 378.70,426.16 378.20,425.80 377.70,428.00 377.20,428.87 376.70,428.06 376.20,428.03 375.70,430.59 375.20,431.39 374.70,431.57 374.20,431.43 373.70,431.83 373.20,433.95 372.70,433.61 372.20,432.39 371.70,432.70 371.20,434.87 370.70,435.45 370.20,434.59 369.70,434.91 369.20,437.10 368.70,436.29 368.20,437.90 367.70,436.43 367.20,437.01 366.70,436.75 366.20,438.88 365.70,438.96 365.20,438.14 364.70,440.41 364.20,440.16 363.70,440.91 363.20,442.95 362.70,442.95 362.20,442.89 361.70,442.49 361.20,442.06 360.70,443.01 360.20,443.71 359.70,445.76 359.20,444.00 358.70,444.80 358.20,445.74 357.70,446.53 357.20,447.62 356.70,448.24 356.20,447.14 355.70,449.57 355.20,448.67 354.70,447.54 354.20,447.67 353.70,448.50 353.20,448.90 352.70,450.18 352.20,448.88 351.70,449.54 351.20,449.78 350.70,451.49 350.20,450.46 349.70,453.22 349.20,452.70 348.70,454.17 348.20,455.83 347.70,456.87 347.20,460.67 346.70,458.45 346.20,458.89 345.70,461.40 345.20,465.40 344.70,465.50 344.20,469.94 343.70,471.72 343.20,477.36 342.70,484.07 342.20,491.39 341.70,493.90 341.20,493.14 340.70,495.51"/>
<polyline fill="none" stroke="#cc2018" stroke-width="1.1" points="340.50,489.68 341.00,484.24 341.50,478.93 342.00,475.36 342.50,471.83 343.00,468.86 343.50,466.45 344.00,463.01 344.50,462.05 345.00,459.44 345.50,458.71 346.00,458.17 346.50,457.11 347.00,455.57 347.50,456.03 348.00,454.63 348.50,453.31 349.00,453.20 349.50,452.17 350.00,452.22 350.50,450.76 351.00,451.15 351.50,449.53 352.00,450.50 352.50,449.65 353.00,449.76 353.50,448.31 354.00,447.20 354.50,447.15 355.00,447.29 355.50,447.95 356.00,446.79 356.50,446.68 357.00,445.11 357.50,444.80 358.00,444.42 358.50,444.69 359.00,443.33 359.50,442.98 360.00,443.45 360.50,441.71 361.00,441.63 361.50,440.47 362.00,440.52 362.50,440.55 363.00,440.21 363.50,438.40 364.00,437.31 364.50,438.31 365.00,438.33 365.50,436.60 366.00,436.52 366.50,435.83 367.00,434.16 367.50,433.31 368.00,434.01 368.50,433.68 369.00,432.07 369.50,432.04 370.00,431.18 370.50,430.47 371.00,429.67 371.50,430.27 372.00,429.05 372.50,428.29 373.00,427.53 373.50,427.33 374.00,426.26 374.50,425.96 375.00,424.87 375.50,424.81 376.00,423.87 376.50,423.71 377.00,422.04 377.50,421.84 378.00,421.04 378.50,421.88 379.00,420.23 379.50,419.96 380.00,418.61 380.50,418.47 381.00,417.58 381.50,417.86 382.00,416.92 382.50,417.67 383.00,415.96 383.50,416.40 384.00,415.34 384.50,415.17 385.00,413.97 385.50,413.92 386.00,413.38 386.50,412.59 387.00,412.79 387.50,411.29 388.00,411.49 388.50,411.01 389.00,410.69 389.50,409.62 390.00,410.07 390.50,408.84 391.00,408.54 391.50,407.92 392.00,407.77 392.50,407.72 393.00,408.55 393.50,405.34 394.00,406.70 394.50,406.27 395.00,406.15 395.50,405.13 396.00,404.83 396.50,405.09 397.00,403.84 397.50,403.49 398.00,403.00 398.50,402.84 399.00,403.12 399.50,401.41 400.00,402.06 400.50,399.94 401.00,400.96 401.50,400.15 402.00,400.63 402.50,400.03 403.00,399.66 403.50,399.20 404.00,398.72 404.50,397.19 405.00,398.00 405.50,396.83 406.00,397.69 406.50,396.48 407.00,396.48 407.50,395.89 408.00,395.84 408.50,395.56 409.00,395.39 409.50,394.18 410.00,395.26 410.50,393.61 411.00,393.74 411.50,392.15 412.00,393.33 412.50,393.35 413.00,393.15 413.50,392.50 414.00,392.17 414.50,391.28 415.00,391.10 415.50,390.90 416.00,390.76 416.50,389.85 417.00,389.90 417.50,390.04 418.00,389.56 418.50,389.11 419.00,388.47 419.50,388.73 420.00,388.38 420.50,388.73 421.00,387.70 421.50,387.89 422.00,386.44 422.50,387.70 423.00,385.83 423.50,386.18 424.00,385.74 424.50,385.33 425.00,385.17 425.50,384.77 426.00,384.80 426.50,384.59 427.00,384.74 427.50,384.49 428.00,384.46 428.50,383.53 429.00,382.61 429.50,383.88 430.00,382.71 430.50,380.87 431.00,382.23 431.50,381.48 432.00,380.90 432.50,380.66 433.00,380.70 433.50,379.97 434.00,380.21 434.50,379.72 435.00,379.43 435.50,379.47 436.00,379.13 436.50,379.49 437.00,378.66 437.50,377.69 438.00,377.92 438.50,378.51 439.00,378.27 439.50,376.78 440.00,377.28 440.50,376.49 441.00,376.36 441.50,375.51 442.00,375.24 442.50,375.69 443.00,375.75 443.50,375.67 444.00,374.78 444.50,374.89 445.00,374.86 445.50,374.52 446.00,373.01 446.50,373.67 447.00,374.06 447.50,374.10 448.00,373.16 448.50,373.94 449.00,371.76 449.50,373.69 450.00,372.51 450.50,372.69 451.00,372.04 451.50,371.73 452.00,371.99 452.50,371.99 453.00,371.23 453.50,372.02 454.00,371.23 454.50,371.32 455.00,370.74 455.50,370.60 456.00,370.74 456.50,369.90 457.00,370.76 457.50,369.61 458.00,370.28 458.50,369.34 459.00,369.63 459.50,369.22 460.00,370.02 460.50,370.10 461.00,368.87 461.50,369.15 462.00,368.88 462.50,368.97 463.00,368.97 463.50,369.20 464.00,368.17 464.50,367.06 465.00,368.16 465.50,367.47 466.00,367.43 466.50,367.97 467.00,367.98 467.50,367.10 468.00,367.53 468.50,366.98 469.00,367.02 469.50,366.40 470.00,367.00 470.50,365.88 471.00,366.07 471.50,366.36 472.00,365.27 472.50,365.80 473.00,365.71 473.50,365.76 474.00,366.08 474.50,364.02 475.00,365.43 475.50,364.99 476.00,365.27 476.50,364.90 477.00,364.10 477.50,364.02 478.00,363.67 478.50,364.66 479.00,363.60 479.50,363.94 480.00,363.54 480.50,362.50 481.00,363.23 481.50,363.18 482.00,363.87 482.50,362.91 483.00,362.33 483.50,362.50 484.00,363.07 484.50,362.83 485.00,362.69 485.50,362.63 486.00,361.77 486.50,362.52 487.00,362.11 487.50,360.77 488.00,361.40 488.50,362.25 489.00,361.20 489.50,361.17 490.00,361.27 490.50,361.22 491.00,361.02 491.50,361.20 492.00,360.43 492.50,359.96 493.00,360.58 493.50,360.45 494.00,360.87 494.50,361.33 495.00,360.43 495.50,360.52 496.00,360.83 496.50,360.28 497.00,360.12 497.50,359.21 498.00,359.37 498.50,359.09 499.00,359.19 499.50,359.80 500.00,359.52 500.50,359.09 501.00,357.90 501.50,359.18 502.00,359.07 502.50,358.12 503.00,358.65 503.50,358.38"/>
<polyline fill="none" stroke="#d8302a" stroke-width="1.3" points="332.20,487.71 332.55,483.72 332.90,495.50 333.25,479.57 333.60,488.65 333.95,485.43 334.30,484.58 334.65,490.27 335.00,478.73 335.35,482.06 335.70,485.54 336.05,492.97 336.40,486.36 336.75,489.58 337.10,478.55 337.45,481.04 337.80,489.88 338.15,483.49 338.50,485.75 338.85,488.92 339.20,477.18 339.55,481.20 339.90,485.62 340.25,479.81 340.60,483.16 340.95,485.83"/>
<polyline fill="none" stroke="#e0504a" stroke-width="1.0" points="332.20,485.87 332.55,487.14 332.90,488.13 333.25,492.26 333.60,493.05 333.95,486.74 334.30,485.35 334.65,490.85 335.00,489.63 335.35,488.80 335.70,485.09 336.05,490.06 336.40,490.79 336.75,482.29 337.10,491.26 337.45,487.77 337.80,485.62 338.15,482.95 338.50,486.91 338.85,487.80 339.20,486.80 339.55,484.15 339.90,484.17 340.25,490.26 340.60,488.15 340.95,488.91"/>
<polyline fill="none" stroke="#5060b0" stroke-width="1.3" points="332.5,495.3 334.5,494.6 336.5,495.4 338.5,494.8 340.5,495.2"/>
<line x1="333.5" y1="465" x2="333.5" y2="480" stroke="#c97a8a" stroke-width="1.1"/>
<line x1="346.9" y1="432.5" x2="346.9" y2="445.5" stroke="#c97a8a" stroke-width="1.1"/>
<line x1="352.1" y1="426.6" x2="352.1" y2="435.8" stroke="#c97a8a" stroke-width="1.1"/>
<line x1="358.1" y1="416.8" x2="358.1" y2="426" stroke="#c97a8a" stroke-width="1.1"/>
<circle cx="346.9" cy="444.5" r="1.0" fill="#7a2a40"/>
<circle cx="352.1" cy="435.0" r="1.0" fill="#7a2a40"/>
</svg>
</body></html>
